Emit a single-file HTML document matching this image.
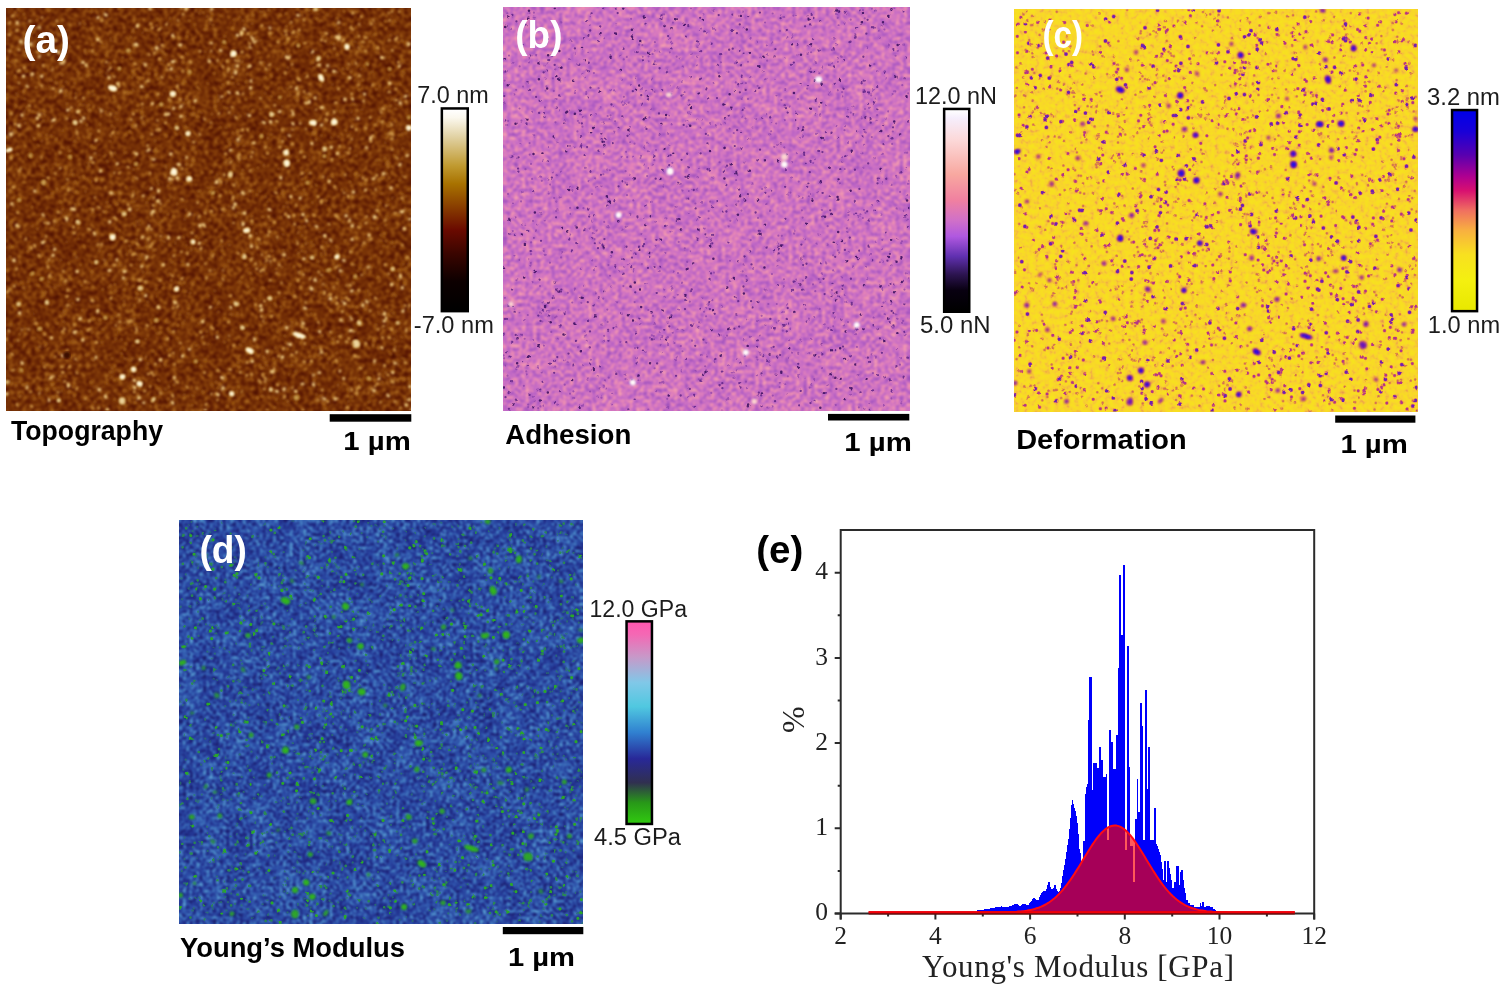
<!DOCTYPE html>
<html lang="en"><head><meta charset="utf-8"><title>AFM nanomechanical maps</title>
<style>
html,body{margin:0;padding:0;background:#fff}
body{width:1512px;height:990px;overflow:hidden}
svg{display:block;filter:blur(0.45px)}
text{font-family:"Liberation Sans",sans-serif}
.cb{font-size:23px;fill:#1c1c1c}
.lb{font-family:"Liberation Sans",sans-serif;font-weight:bold;fill:#000}
.pl{font-family:"Liberation Sans",sans-serif;font-weight:bold}
.tk{font-family:"Liberation Serif",serif;font-size:25.5px;fill:#222}
.ax{font-family:"Liberation Serif",serif;fill:#222}
</style></head><body>
<svg width="1512" height="990" viewBox="0 0 1512 990">
<defs>
<filter id="fa" x="0" y="0" width="100%" height="100%" color-interpolation-filters="sRGB">
<feTurbulence type="fractalNoise" baseFrequency="0.22" numOctaves="2" seed="7"/>
<feColorMatrix type="matrix" values="1 0 0 0 0 1 0 0 0 0 1 0 0 0 0 0 0 0 0 1" result="hi"/>
<feTurbulence type="fractalNoise" baseFrequency="0.035" numOctaves="2" seed="3"/>
<feColorMatrix type="matrix" values="1 0 0 0 0 1 0 0 0 0 1 0 0 0 0 0 0 0 0 1" result="lo"/>
<feComposite in="hi" in2="lo" operator="arithmetic" k1="0" k2="1" k3="0.2" k4="-0.1"/>
<feComponentTransfer><feFuncR type="table" tableValues="0.243 0.251 0.258 0.265 0.273 0.28 0.287 0.295 0.302 0.31 0.317 0.324 0.332 0.34 0.349 0.358 0.367 0.376 0.386 0.395 0.404 0.414 0.424 0.434 0.444 0.454 0.465 0.476 0.488 0.499 0.511 0.523 0.537 0.551 0.565 0.579 0.593 0.608 0.624 0.639 0.654 0.669 0.681 0.692 0.704 0.715 0.727 0.738 0.75 0.761 0.773 0.784"/><feFuncG type="table" tableValues="0.039 0.042 0.045 0.048 0.052 0.055 0.058 0.061 0.064 0.067 0.07 0.073 0.076 0.08 0.089 0.097 0.105 0.113 0.121 0.13 0.138 0.147 0.156 0.165 0.174 0.184 0.194 0.204 0.215 0.226 0.237 0.249 0.263 0.276 0.29 0.304 0.32 0.34 0.36 0.38 0.4 0.419 0.433 0.448 0.462 0.477 0.492 0.506 0.521 0.535 0.55 0.565"/><feFuncB type="table" tableValues="0 0.001 0.001 0.002 0.002 0.003 0.004 0.004 0.005 0.006 0.006 0.007 0.007 0.008 0.009 0.01 0.011 0.012 0.013 0.014 0.015 0.017 0.018 0.02 0.021 0.023 0.025 0.028 0.031 0.034 0.037 0.042 0.048 0.054 0.06 0.066 0.074 0.085 0.095 0.106 0.117 0.128 0.14 0.153 0.165 0.177 0.189 0.202 0.214 0.226 0.239 0.251"/></feComponentTransfer>
<feGaussianBlur stdDeviation="0.8"/>
<feComponentTransfer><feFuncA type="linear" slope="0" intercept="1"/></feComponentTransfer>
</filter>
<clipPath id="ca"><rect x="6" y="8" width="405" height="402.5"/></clipPath>
<linearGradient id="ga" x1="0" y1="0" x2="0" y2="1"><stop offset="0" stop-color="#ffffff"/><stop offset="0.04" stop-color="#fbf8ee"/><stop offset="0.14" stop-color="#e0d0a0"/><stop offset="0.28" stop-color="#c09a30"/><stop offset="0.37" stop-color="#a87200"/><stop offset="0.48" stop-color="#8a4000"/><stop offset="0.6" stop-color="#6a0a00"/><stop offset="0.72" stop-color="#3a0500"/><stop offset="0.86" stop-color="#0c0000"/><stop offset="1" stop-color="#000000"/></linearGradient>
<filter id="fb" x="0" y="0" width="100%" height="100%" color-interpolation-filters="sRGB">
<feTurbulence type="fractalNoise" baseFrequency="0.27" numOctaves="2" seed="11"/>
<feColorMatrix type="matrix" values="1 0 0 0 0 1 0 0 0 0 1 0 0 0 0 0 0 0 0 1" result="hi"/>
<feTurbulence type="fractalNoise" baseFrequency="0.04" numOctaves="2" seed="5"/>
<feColorMatrix type="matrix" values="1 0 0 0 0 1 0 0 0 0 1 0 0 0 0 0 0 0 0 1" result="lo"/>
<feComposite in="hi" in2="lo" operator="arithmetic" k1="0" k2="1" k3="0.18" k4="-0.09"/>
<feComponentTransfer><feFuncR type="table" tableValues="0.486 0.497 0.508 0.519 0.531 0.542 0.553 0.564 0.575 0.586 0.597 0.608 0.619 0.631 0.645 0.659 0.674 0.688 0.702 0.716 0.731 0.746 0.762 0.777 0.793 0.808 0.823 0.839 0.854 0.87 0.885 0.898 0.907 0.916 0.925 0.935 0.943 0.947 0.952 0.956 0.961 0.965 0.967 0.97 0.972 0.974 0.977 0.979 0.981 0.984 0.986 0.988"/><feFuncG type="table" tableValues="0.22 0.228 0.236 0.244 0.252 0.26 0.268 0.276 0.284 0.292 0.3 0.308 0.316 0.324 0.333 0.343 0.352 0.362 0.371 0.381 0.391 0.403 0.415 0.426 0.438 0.449 0.46 0.471 0.482 0.493 0.503 0.515 0.527 0.539 0.552 0.564 0.577 0.591 0.604 0.618 0.632 0.645 0.656 0.667 0.678 0.688 0.699 0.71 0.721 0.731 0.742 0.753"/><feFuncB type="table" tableValues="0.643 0.651 0.658 0.665 0.673 0.68 0.687 0.695 0.702 0.71 0.717 0.724 0.732 0.739 0.746 0.753 0.76 0.767 0.775 0.782 0.783 0.78 0.778 0.775 0.772 0.77 0.764 0.755 0.746 0.736 0.727 0.719 0.713 0.707 0.701 0.695 0.69 0.69 0.69 0.69 0.69 0.691 0.698 0.704 0.71 0.716 0.722 0.728 0.734 0.741 0.747 0.753"/></feComponentTransfer>
<feGaussianBlur stdDeviation="0.8"/>
<feComponentTransfer><feFuncA type="linear" slope="0" intercept="1"/></feComponentTransfer>
</filter>
<clipPath id="cb"><rect x="503" y="7.7" width="406.3" height="402.9"/></clipPath>
<linearGradient id="gb" x1="0" y1="0" x2="0" y2="1"><stop offset="0" stop-color="#ffffff"/><stop offset="0.04" stop-color="#f6eefc"/><stop offset="0.15" stop-color="#fcd8d8"/><stop offset="0.32" stop-color="#f8a8a0"/><stop offset="0.45" stop-color="#f080a0"/><stop offset="0.55" stop-color="#d070c8"/><stop offset="0.63" stop-color="#b058e0"/><stop offset="0.73" stop-color="#6030b0"/><stop offset="0.82" stop-color="#2c1450"/><stop offset="0.9" stop-color="#080010"/><stop offset="1" stop-color="#000000"/></linearGradient>
<filter id="fc" x="0" y="0" width="100%" height="100%" color-interpolation-filters="sRGB">
<feTurbulence type="fractalNoise" baseFrequency="0.2" numOctaves="2" seed="23"/>
<feColorMatrix type="matrix" values="1 0 0 0 0 1 0 0 0 0 1 0 0 0 0 0 0 0 0 1" result="hi"/>
<feComponentTransfer><feFuncR type="table" tableValues="0.965 0.965 0.966 0.966 0.966 0.967 0.967 0.968 0.968 0.969 0.969 0.97 0.97 0.97 0.971 0.971 0.972 0.972 0.973 0.973 0.973 0.973 0.973 0.973 0.973 0.973 0.973 0.973 0.973 0.973 0.973 0.973 0.972 0.97 0.969 0.967 0.966 0.964 0.96 0.956 0.952 0.948 0.944 0.94 0.932 0.925 0.917 0.909 0.901 0.894 0.886 0.878"/><feFuncG type="table" tableValues="0.902 0.9 0.898 0.897 0.895 0.893 0.891 0.89 0.888 0.886 0.884 0.883 0.881 0.879 0.877 0.876 0.874 0.872 0.87 0.867 0.864 0.861 0.858 0.855 0.852 0.849 0.844 0.839 0.834 0.829 0.824 0.819 0.812 0.801 0.79 0.779 0.769 0.756 0.741 0.726 0.71 0.695 0.68 0.663 0.643 0.623 0.603 0.583 0.563 0.542 0.522 0.502"/><feFuncB type="table" tableValues="0.11 0.111 0.112 0.114 0.115 0.116 0.118 0.119 0.12 0.122 0.123 0.124 0.126 0.127 0.128 0.13 0.131 0.132 0.134 0.137 0.14 0.143 0.146 0.149 0.152 0.155 0.159 0.165 0.17 0.175 0.18 0.185 0.191 0.199 0.207 0.214 0.222 0.23 0.237 0.245 0.253 0.26 0.268 0.275 0.28 0.285 0.29 0.295 0.299 0.304 0.309 0.314"/></feComponentTransfer>
<feGaussianBlur stdDeviation="0.7"/>
<feComponentTransfer><feFuncA type="linear" slope="0" intercept="1"/></feComponentTransfer>
</filter>
<clipPath id="cc"><rect x="1014" y="9.6" width="403.5" height="401.8"/></clipPath>
<linearGradient id="gc" x1="0" y1="0" x2="0" y2="1"><stop offset="0" stop-color="#0000e8"/><stop offset="0.1" stop-color="#1800d8"/><stop offset="0.22" stop-color="#5800b0"/><stop offset="0.33" stop-color="#b00090"/><stop offset="0.4" stop-color="#d81070"/><stop offset="0.5" stop-color="#f07060"/><stop offset="0.6" stop-color="#f8b040"/><stop offset="0.72" stop-color="#f8e020"/><stop offset="0.85" stop-color="#f4f010"/><stop offset="1" stop-color="#e8e800"/></linearGradient>
<filter id="fd" x="0" y="0" width="100%" height="100%" color-interpolation-filters="sRGB">
<feTurbulence type="fractalNoise" baseFrequency="0.3" numOctaves="2" seed="31"/>
<feColorMatrix type="matrix" values="1 0 0 0 0 1 0 0 0 0 1 0 0 0 0 0 0 0 0 1" result="hi"/>
<feTurbulence type="fractalNoise" baseFrequency="0.04" numOctaves="2" seed="8"/>
<feColorMatrix type="matrix" values="1 0 0 0 0 1 0 0 0 0 1 0 0 0 0 0 0 0 0 1" result="lo"/>
<feComposite in="hi" in2="lo" operator="arithmetic" k1="0" k2="1" k3="0.2" k4="-0.1"/>
<feComponentTransfer><feFuncR type="table" tableValues="0.078 0.081 0.083 0.085 0.087 0.089 0.091 0.093 0.095 0.097 0.099 0.101 0.104 0.107 0.109 0.112 0.114 0.117 0.121 0.125 0.13 0.135 0.139 0.145 0.153 0.161 0.169 0.178 0.19 0.201 0.213 0.226 0.241 0.257 0.272 0.287 0.303 0.318 0.333 0.349 0.364 0.378 0.392 0.406 0.42 0.434 0.448 0.462 0.476 0.49 0.504 0.518"/><feFuncG type="table" tableValues="0.078 0.081 0.084 0.087 0.09 0.092 0.095 0.098 0.101 0.104 0.106 0.109 0.114 0.119 0.124 0.129 0.134 0.139 0.151 0.167 0.182 0.197 0.213 0.231 0.253 0.274 0.295 0.318 0.343 0.368 0.393 0.419 0.448 0.477 0.506 0.532 0.554 0.575 0.597 0.619 0.638 0.651 0.665 0.678 0.691 0.705 0.718 0.731 0.744 0.758 0.771 0.784"/><feFuncB type="table" tableValues="0.282 0.293 0.303 0.314 0.324 0.335 0.345 0.356 0.366 0.377 0.387 0.398 0.413 0.43 0.446 0.463 0.48 0.496 0.513 0.53 0.547 0.564 0.581 0.598 0.615 0.633 0.65 0.666 0.682 0.697 0.712 0.727 0.74 0.754 0.767 0.779 0.789 0.798 0.807 0.816 0.825 0.831 0.837 0.844 0.85 0.856 0.863 0.869 0.875 0.882 0.888 0.894"/></feComponentTransfer>
<feGaussianBlur stdDeviation="0.8"/>
<feComponentTransfer><feFuncA type="linear" slope="0" intercept="1"/></feComponentTransfer>
</filter>
<clipPath id="cd"><rect x="179.3" y="520.5" width="403.3" height="403.2"/></clipPath>
<linearGradient id="gd" x1="0" y1="0" x2="0" y2="1"><stop offset="0" stop-color="#ff58b0"/><stop offset="0.06" stop-color="#f468b4"/><stop offset="0.17" stop-color="#c898c8"/><stop offset="0.3" stop-color="#80c8e8"/><stop offset="0.42" stop-color="#50c8e0"/><stop offset="0.55" stop-color="#3080d0"/><stop offset="0.68" stop-color="#282898"/><stop offset="0.8" stop-color="#303050"/><stop offset="0.9" stop-color="#289818"/><stop offset="1" stop-color="#30c810"/></linearGradient>
<path id="p0" d="M391.4 177.4h.01M60.2 73.7h.01M26.1 217.8h.01M261.1 193.6h.01M100.9 375.7h.01M214.7 7.8h.01M2.3 57.9h.01M66.4 224.3h.01M57.2 122.9h.01M112.1 324.6h.01M62.6 384.3h.01M337.7 16.5h.01M192.8 315.1h.01M331.0 354.8h.01M316.3 327.9h.01M50.2 74.7h.01M180.9 28.5h.01M19.3 115.2h.01M26.8 103.6h.01M172.7 81.3h.01M285.5 357.2h.01M208.6 282.7h.01M222.4 134.3h.01M28.2 130.9h.01M60.1 87.4h.01M217.7 370.7h.01M37.6 104.8h.01M347.4 111.4h.01M178.4 312.7h.01M124.7 29.5h.01M173.7 274.8h.01M162.2 192.4h.01M149.7 241.7h.01M210.1 374.2h.01M293.8 265.9h.01M148.5 319.6h.01M120.9 276.1h.01M383.1 118.2h.01M216.3 242.4h.01M135.4 129.2h.01M307.7 237.2h.01M333.8 103.5h.01M208.8 174.9h.01M27.9 305.7h.01M282.7 366.1h.01M215.6 249.5h.01M384.3 97.9h.01M244.6 28.5h.01M199.6 21.1h.01M144.4 149.5h.01M259.0 85.4h.01M189.6 240.6h.01M160.6 313.3h.01M216.3 238.9h.01M288.4 258.7h.01M237.8 333.3h.01M51.5 315.7h.01M96.8 281.1h.01M387.4 286.4h.01M222.0 75.8h.01M377.1 373.9h.01M178.8 211.3h.01M400.8 34.6h.01M246.1 135.2h.01M281.4 80.3h.01M393.2 127.2h.01M22.6 273.6h.01M289.5 363.3h.01M375.0 245.3h.01M372.9 78.2h.01M180.2 202.0h.01M108.8 357.8h.01M277.7 198.7h.01M366.1 63.4h.01M388.4 370.9h.01M220.3 173.1h.01M290.6 28.5h.01M280.5 335.0h.01M323.9 201.7h.01M152.1 71.3h.01M384.5 346.1h.01M93.3 100.5h.01M227.4 58.3h.01M88.2 225.6h.01M275.2 208.7h.01M178.3 274.7h.01M123.7 237.8h.01M231.7 305.6h.01M84.8 173.6h.01M302.8 92.4h.01M295.7 7.1h.01M233.3 359.4h.01M185.9 106.0h.01M300.3 210.2h.01M372.8 171.0h.01M137.3 115.4h.01M230.8 135.0h.01M243.6 265.0h.01M179.1 73.5h.01M394.3 76.5h.01M160.5 128.0h.01M106.1 350.3h.01M72.5 230.8h.01M125.7 377.4h.01M232.0 135.8h.01M379.0 312.3h.01M246.9 7.3h.01M88.3 140.2h.01M157.2 279.9h.01M39.1 107.2h.01M250.5 225.5h.01M170.3 126.7h.01M69.3 174.1h.01M56.6 201.6h.01M233.2 122.8h.01M268.6 399.5h.01M126.2 118.9h.01M256.2 388.2h.01M105.9 148.4h.01M168.3 376.7h.01M127.7 162.2h.01M246.1 182.9h.01M205.9 377.0h.01M337.8 313.7h.01M152.1 372.4h.01M246.7 102.3h.01M291.8 225.5h.01M182.1 305.7h.01M66.5 183.4h.01M269.5 340.2h.01M121.9 85.3h.01M379.8 233.2h.01M395.6 350.3h.01M118.1 233.2h.01M310.2 386.3h.01M46.5 59.0h.01M83.4 126.2h.01M119.3 144.8h.01M127.0 82.5h.01M212.9 294.9h.01M387.3 275.6h.01M246.5 15.9h.01M207.8 246.0h.01M257.3 209.1h.01M108.7 391.2h.01M164.6 11.0h.01M25.7 25.4h.01M383.0 102.7h.01M117.9 270.1h.01M192.4 256.9h.01M5.0 362.1h.01M259.5 188.7h.01M22.0 242.9h.01M396.0 32.4h.01M183.1 12.7h.01M136.7 24.8h.01M165.8 266.6h.01M392.7 270.5h.01M108.7 144.7h.01M367.9 356.0h.01M234.5 108.1h.01M234.3 336.7h.01M130.6 213.7h.01M218.5 99.5h.01M263.5 140.4h.01M208.1 262.1h.01M188.8 16.6h.01M45.1 360.4h.01M331.3 64.2h.01M28.4 391.4h.01M79.3 183.6h.01M45.9 269.2h.01M373.4 113.2h.01M389.1 13.9h.01M124.7 352.3h.01M104.7 277.5h.01M131.5 97.5h.01M214.3 376.2h.01M280.1 5.6h.01M119.8 127.0h.01M220.8 175.3h.01M134.0 70.1h.01M160.2 160.0h.01M340.1 144.4h.01M348.1 183.9h.01M159.3 157.7h.01M124.6 242.7h.01M18.6 281.1h.01M290.7 92.7h.01M305.2 234.8h.01M56.8 179.7h.01M310.5 177.6h.01M180.9 208.3h.01M83.6 383.3h.01M95.7 356.3h.01M373.2 305.6h.01M306.6 125.7h.01M257.9 157.8h.01M157.6 52.8h.01M337.8 214.4h.01M100.3 47.3h.01M180.2 46.0h.01M259.2 249.3h.01M341.8 381.5h.01M284.9 317.8h.01M357.3 237.5h.01M85.5 138.5h.01M161.3 342.2h.01M73.7 169.3h.01M172.0 317.5h.01M133.3 213.0h.01M74.9 323.5h.01M259.2 69.3h.01M400.1 260.1h.01M341.8 128.5h.01M171.2 195.9h.01M13.8 326.1h.01M178.5 386.7h.01M355.4 175.7h.01M218.5 310.5h.01M19.8 320.9h.01M231.8 354.6h.01M18.8 91.1h.01M165.3 272.6h.01M139.8 330.8h.01M187.6 140.4h.01M286.4 314.5h.01M187.3 107.3h.01M187.9 207.2h.01M111.7 125.1h.01M236.6 205.6h.01M330.0 16.8h.01M202.4 288.0h.01M218.6 334.2h.01M219.0 203.2h.01M28.6 312.0h.01M370.7 81.6h.01M345.3 103.9h.01M55.4 204.6h.01M297.4 200.0h.01M100.0 65.8h.01M167.6 208.9h.01M205.8 106.2h.01M345.3 214.4h.01M273.1 79.9h.01M57.0 335.2h.01M399.2 200.1h.01M321.6 48.0h.01M203.7 212.5h.01M136.0 78.7h.01M333.0 258.4h.01M355.4 176.1h.01M315.5 246.4h.01M233.2 186.1h.01M118.6 314.4h.01M139.3 74.9h.01M303.8 348.3h.01M6.5 53.8h.01M348.9 256.9h.01M186.6 309.4h.01M259.5 254.3h.01M404.1 202.2h.01M150.5 17.7h.01M205.4 5.1h.01M307.2 149.7h.01M380.5 125.8h.01M23.8 38.1h.01M52.2 278.3h.01M261.8 79.2h.01M191.9 210.6h.01M169.2 234.8h.01M138.1 273.5h.01M136.6 79.2h.01M42.2 273.8h.01M388.7 147.7h.01M325.3 129.8h.01M163.0 378.9h.01M365.9 387.3h.01M392.4 356.7h.01M281.8 59.9h.01M208.3 65.4h.01M204.4 119.2h.01M225.9 152.6h.01M82.2 155.2h.01M321.7 354.5h.01M227.5 395.8h.01M149.2 132.2h.01M41.7 257.6h.01M314.0 224.1h.01M128.3 310.6h.01M257.1 348.7h.01M115.0 257.6h.01M336.4 181.9h.01M368.0 332.6h.01M58.1 313.4h.01M315.3 127.0h.01M99.2 204.0h.01M220.1 154.9h.01M280.4 18.5h.01M281.0 194.5h.01M152.8 380.9h.01M284.0 276.7h.01M18.4 43.7h.01M315.7 30.6h.01M332.0 19.4h.01M359.8 236.2h.01M298.7 315.4h.01M106.0 310.5h.01M223.4 237.2h.01M6.4 238.8h.01M257.3 280.2h.01M11.3 86.5h.01M211.0 166.9h.01M396.6 54.3h.01M173.7 100.3h.01M53.6 84.8h.01M108.4 119.8h.01M256.6 3.7h.01M67.7 133.3h.01M358.6 265.4h.01M80.4 347.5h.01M200.3 271.8h.01M97.9 148.7h.01M179.6 283.4h.01M173.6 171.5h.01M379.8 364.4h.01M145.9 207.3h.01M108.3 89.9h.01M14.7 387.4h.01M5.3 338.2h.01M362.1 232.0h.01M271.6 61.3h.01M278.1 390.4h.01M152.0 175.9h.01M3.0 322.8h.01M127.7 38.4h.01M297.9 181.9h.01M140.7 194.6h.01M63.4 358.2h.01M356.8 72.3h.01M159.3 356.9h.01M352.3 72.8h.01M25.9 199.0h.01M87.7 86.6h.01M18.8 103.2h.01M185.0 241.9h.01M325.3 234.3h.01M383.3 320.5h.01M396.9 53.7h.01M7.6 123.2h.01M16.8 279.2h.01M251.4 389.8h.01M201.6 193.7h.01M288.9 181.7h.01M201.5 193.4h.01M384.8 31.9h.01M379.6 217.1h.01M188.2 152.6h.01M373.3 269.5h.01M16.8 376.8h.01M237.8 137.6h.01M209.2 98.8h.01M218.9 371.6h.01M403.8 251.2h.01M153.6 214.2h.01M113.9 222.2h.01M128.5 297.4h.01M369.1 116.7h.01M319.4 246.0h.01M56.8 78.9h.01M85.0 126.1h.01M232.5 378.5h.01M245.0 265.3h.01M361.9 400.6h.01M199.1 43.6h.01M190.7 337.3h.01M37.1 112.7h.01M88.2 311.2h.01M221.3 398.6h.01M269.9 180.6h.01M393.7 172.5h.01M273.6 314.6h.01M13.3 10.6h.01M218.7 259.1h.01M104.3 364.1h.01M179.0 108.6h.01M399.6 188.8h.01M384.7 27.2h.01M309.7 366.7h.01M236.8 162.2h.01M173.9 100.2h.01M264.5 212.1h.01M61.1 210.9h.01M149.9 140.9h.01M397.3 256.6h.01M76.3 302.0h.01M389.5 100.8h.01M79.0 16.1h.01M261.8 371.8h.01M331.5 10.9h.01M63.8 38.9h.01M112.9 98.5h.01M4.2 184.3h.01M18.2 82.8h.01M101.2 152.7h.01M30.6 104.8h.01M319.9 345.9h.01M232.8 153.2h.01M58.2 302.7h.01M135.6 246.7h.01M47.9 216.3h.01M63.1 143.0h.01M308.3 123.8h.01M69.8 85.5h.01M88.9 46.6h.01M181.8 245.9h.01M332.3 327.8h.01M350.8 299.1h.01M203.6 250.7h.01M333.4 211.0h.01M20.7 99.5h.01M189.3 144.4h.01M267.7 351.0h.01M363.1 394.0h.01M397.3 192.1h.01M119.1 382.7h.01M239.8 91.3h.01M74.8 256.8h.01M258.7 350.6h.01M138.1 116.1h.01M1.5 86.1h.01M245.8 208.5h.01M216.7 269.5h.01M31.3 220.7h.01M158.9 233.6h.01M303.3 1.8h.01M99.6 103.7h.01M80.9 68.3h.01M54.5 194.0h.01M226.2 306.6h.01M201.3 8.5h.01M147.9 46.9h.01M107.0 125.6h.01M308.2 373.1h.01M356.0 294.2h.01M131.5 69.5h.01M402.8 256.3h.01M103.7 104.9h.01M286.0 347.0h.01M282.0 393.7h.01M330.9 46.7h.01M199.6 232.1h.01M199.6 351.0h.01M103.6 197.8h.01M77.4 168.5h.01M124.7 51.0h.01M320.1 391.8h.01M388.6 238.4h.01M36.8 235.1h.01M364.0 33.7h.01M379.0 150.4h.01M228.1 61.6h.01M82.5 102.9h.01M245.4 235.3h.01M155.3 339.4h.01M345.0 63.6h.01M49.7 213.3h.01M236.7 12.7h.01M97.4 321.4h.01M132.0 386.4h.01M370.3 152.4h.01M118.7 292.8h.01M349.5 165.6h.01M317.1 28.1h.01M42.0 381.0h.01M261.1 357.4h.01M37.8 355.5h.01M212.6 303.9h.01M207.8 245.1h.01M56.7 36.8h.01M136.0 113.3h.01M201.9 75.6h.01M380.0 13.3h.01M184.0 285.1h.01M244.0 282.9h.01M188.4 273.2h.01M75.7 277.3h.01M71.9 64.0h.01M231.5 124.3h.01M164.0 169.0h.01M187.5 99.5h.01M48.5 279.3h.01M295.2 317.7h.01M118.2 281.5h.01M388.0 331.2h.01M170.3 68.9h.01M378.5 225.6h.01M45.3 72.5h.01M395.9 329.6h.01M265.5 126.2h.01M85.6 264.4h.01M165.0 189.5h.01M35.7 132.9h.01M0.4 164.9h.01M395.2 89.1h.01M147.6 242.0h.01M47.4 236.8h.01M262.9 61.3h.01M18.4 15.4h.01M108.5 372.0h.01M113.5 0.2h.01M312.2 253.7h.01M320.2 235.5h.01M398.4 350.7h.01M353.3 167.3h.01M363.6 286.1h.01M29.8 79.3h.01M72.8 396.9h.01M321.4 7.3h.01M381.8 157.5h.01M68.5 75.0h.01M269.0 399.7h.01M367.0 338.1h.01M386.1 235.0h.01M292.0 272.6h.01M188.8 92.0h.01M222.9 252.7h.01M281.7 43.4h.01M104.4 133.2h.01M279.1 35.5h.01M239.8 74.0h.01M350.4 148.0h.01M195.0 104.8h.01M68.6 245.6h.01M212.6 91.3h.01M306.4 194.6h.01M211.3 324.0h.01M41.3 255.1h.01M91.4 238.1h.01M250.7 186.6h.01M395.1 97.6h.01M318.4 242.3h.01M53.3 345.5h.01M129.2 394.5h.01M227.6 11.2h.01M380.1 99.6h.01M54.5 252.5h.01M38.5 286.5h.01M33.5 388.0h.01M402.2 181.6h.01M231.7 138.5h.01M374.9 227.2h.01M253.8 357.2h.01M344.1 173.9h.01M153.6 325.6h.01M181.5 164.4h.01M84.6 200.8h.01M32.6 137.6h.01M153.3 31.4h.01M119.2 179.2h.01M102.1 280.1h.01M18.1 6.3h.01M175.5 190.8h.01M200.7 323.5h.01M36.9 66.7h.01M239.8 185.4h.01M15.3 30.5h.01M258.9 309.7h.01M294.1 257.4h.01M277.4 242.4h.01M176.3 253.6h.01M137.2 264.2h.01M118.3 350.4h.01M124.6 202.3h.01M10.1 97.8h.01M193.3 81.2h.01M399.5 125.3h.01M315.3 388.0h.01M120.7 246.3h.01M355.8 101.4h.01M335.5 29.7h.01M18.3 337.3h.01M82.9 97.0h.01M207.3 17.1h.01M245.7 270.6h.01M374.0 56.9h.01M57.9 273.4h.01M5.5 316.7h.01M34.6 158.1h.01M277.5 225.9h.01M295.3 311.6h.01M380.5 164.9h.01M115.9 330.8h.01M104.5 127.3h.01M131.6 246.7h.01M290.6 232.6h.01M234.3 399.8h.01M115.5 346.2h.01M265.5 68.4h.01M230.3 174.2h.01M282.2 250.1h.01M212.1 106.6h.01M349.7 96.8h.01M43.4 79.2h.01M204.2 15.2h.01M271.5 323.9h.01M223.8 306.3h.01M56.1 67.1h.01M307.0 54.6h.01M298.2 164.7h.01M253.9 183.3h.01M384.1 70.6h.01M64.3 349.7h.01M359.2 300.9h.01M93.5 64.6h.01M86.1 324.2h.01M117.7 297.4h.01M347.0 275.2h.01M378.1 238.1h.01M86.7 204.4h.01M84.6 374.3h.01M109.4 331.0h.01M147.2 343.4h.01M154.5 203.1h.01M299.7 286.2h.01M180.1 118.8h.01M353.2 378.4h.01M118.7 341.4h.01M388.7 149.6h.01M34.6 381.8h.01M190.9 78.8h.01M369.2 39.8h.01M250.6 324.8h.01M105.4 67.8h.01M127.6 313.3h.01M237.7 150.4h.01M191.9 80.0h.01M302.8 165.9h.01M402.7 300.1h.01M213.8 276.8h.01M396.6 140.5h.01M47.4 389.2h.01M110.5 308.1h.01M291.9 78.8h.01M201.5 179.9h.01M133.4 251.7h.01M386.1 91.1h.01M131.0 286.1h.01M309.0 337.9h.01M316.6 394.9h.01M286.2 108.5h.01M310.3 132.0h.01M189.7 2.3h.01M335.4 327.8h.01M2.8 78.6h.01M164.3 264.8h.01M111.2 111.6h.01M149.8 66.3h.01M264.6 256.2h.01M133.4 237.6h.01M118.0 297.3h.01M232.3 76.1h.01M372.4 45.4h.01M12.4 1.5h.01M40.7 127.0h.01M140.0 348.5h.01M77.6 97.3h.01M376.4 168.1h.01M330.6 181.0h.01M388.9 113.0h.01M254.4 235.0h.01M349.2 53.5h.01M229.6 207.9h.01M28.5 329.9h.01M332.5 128.7h.01M141.9 356.3h.01M231.7 148.9h.01M93.2 242.7h.01M187.2 387.3h.01M246.0 161.9h.01M291.6 178.2h.01M310.9 10.7h.01M319.6 400.6h.01M128.9 66.7h.01M353.4 260.2h.01M345.9 388.7h.01M273.6 169.7h.01M276.5 98.8h.01M46.1 185.4h.01M59.3 274.9h.01M270.1 392.2h.01M130.2 290.3h.01M197.5 311.3h.01M39.5 284.2h.01M197.0 4.6h.01M211.9 380.0h.01M192.9 5.5h.01M99.6 255.7h.01M162.6 391.1h.01M189.7 337.6h.01M0.8 285.6h.01M121.6 316.9h.01M22.9 97.4h.01M396.2 167.3h.01M64.8 100.7h.01M45.3 127.8h.01M87.8 225.8h.01M66.7 295.7h.01M220.2 119.5h.01M335.3 293.2h.01M52.1 372.4h.01M37.7 159.5h.01M296.1 227.8h.01M252.7 44.5h.01M148.8 233.6h.01M19.2 279.6h.01M168.8 371.2h.01M380.3 208.7h.01M390.7 206.0h.01M140.1 21.7h.01M173.3 100.4h.01M69.4 196.7h.01M341.5 61.1h.01M336.3 182.1h.01M28.9 20.8h.01M49.5 41.4h.01M160.4 46.7h.01M196.6 313.2h.01M296.0 243.1h.01M142.4 238.9h.01M396.8 186.2h.01M127.8 193.6h.01M231.4 204.8h.01M265.4 88.5h.01M130.0 317.4h.01M116.9 49.7h.01M174.1 341.4h.01M180.8 237.4h.01M292.2 152.6h.01M7.7 198.0h.01M339.6 122.7h.01M215.0 276.0h.01M127.8 161.7h.01M139.1 351.1h.01M108.8 276.5h.01M162.2 206.3h.01M183.5 297.6h.01M333.9 148.2h.01M380.2 20.3h.01M326.9 331.4h.01M17.2 15.6h.01M168.4 298.7h.01M403.3 87.4h.01M52.7 26.7h.01M11.6 146.1h.01M70.4 184.4h.01M135.8 105.1h.01M38.6 233.2h.01M338.7 92.6h.01M85.5 312.1h.01M293.8 219.1h.01M308.2 124.6h.01M382.2 197.2h.01M61.1 95.6h.01M96.4 36.2h.01M115.5 230.1h.01M231.9 110.3h.01M355.5 60.9h.01M289.0 350.0h.01M375.5 185.1h.01M300.1 186.6h.01M221.4 100.5h.01M193.3 183.3h.01M9.5 4.8h.01M11.7 40.4h.01M123.7 123.5h.01M223.6 199.0h.01M88.5 379.3h.01M257.1 368.8h.01M241.1 65.9h.01M155.2 42.3h.01M384.0 114.8h.01M292.8 244.8h.01M378.7 135.0h.01M235.8 54.3h.01M40.5 336.0h.01M233.6 146.2h.01M398.1 64.0h.01M374.3 194.5h.01M27.2 36.5h.01M398.2 371.7h.01M217.0 76.7h.01M25.4 68.8h.01M370.0 316.6h.01M136.6 246.3h.01M332.0 377.8h.01M181.7 244.0h.01M171.3 330.6h.01M235.3 226.0h.01M267.4 366.0h.01M34.4 127.2h.01M95.6 334.6h.01M330.7 238.3h.01M59.9 83.1h.01M254.4 100.9h.01M10.3 377.5h.01M249.4 290.8h.01M254.0 32.7h.01M64.9 166.3h.01M227.4 124.8h.01M263.1 2.2h.01M179.6 91.4h.01M388.4 393.9h.01M108.5 186.6h.01M211.9 87.2h.01M389.9 288.2h.01M347.5 96.0h.01M107.0 363.8h.01M380.3 155.6h.01M120.8 351.4h.01M224.3 61.7h.01M77.9 237.1h.01M330.8 352.5h.01M325.6 168.1h.01M100.7 194.2h.01M28.1 34.2h.01M305.1 306.0h.01M338.9 152.2h.01M127.1 23.7h.01M30.9 11.8h.01M0.6 180.9h.01M105.4 291.0h.01M342.4 393.3h.01M148.3 143.1h.01M327.9 36.0h.01M226.8 19.8h.01M173.6 306.8h.01M251.8 159.9h.01M61.4 346.4h.01M401.2 102.0h.01M281.7 199.0h.01M73.9 96.7h.01M276.1 185.7h.01M44.4 278.7h.01M272.7 160.6h.01M402.4 265.8h.01M389.5 323.3h.01M162.7 314.1h.01M143.7 229.3h.01M72.6 130.1h.01M226.3 64.8h.01M276.9 183.0h.01M333.4 25.1h.01M30.7 340.9h.01M330.4 27.7h.01M330.6 258.7h.01M141.3 87.4h.01M162.2 177.5h.01M93.4 312.0h.01M94.1 116.2h.01M398.6 274.7h.01M371.3 220.6h.01M339.0 232.7h.01M119.9 335.6h.01M144.0 191.0h.01M62.7 256.0h.01M32.5 277.6h.01M337.1 61.0h.01M159.5 381.3h.01M360.1 291.7h.01M295.5 263.3h.01M86.6 36.8h.01M365.3 259.6h.01M214.3 119.3h.01M299.6 235.4h.01M364.3 250.3h.01M298.7 218.6h.01M110.9 196.3h.01M177.2 139.9h.01M255.2 3.5h.01M5.3 214.7h.01M246.4 281.2h.01M141.8 235.1h.01M330.9 344.7h.01M42.9 2.2h.01M46.4 375.9h.01M344.1 308.2h.01M60.6 233.5h.01M234.1 204.9h.01M383.0 170.6h.01M392.6 271.5h.01M278.1 23.5h.01M158.2 46.1h.01M299.5 243.9h.01M256.0 359.8h.01M327.0 76.7h.01M343.6 127.0h.01M55.9 382.8h.01M218.9 28.5h.01M49.6 156.2h.01M192.0 109.0h.01M131.5 201.6h.01M212.4 296.1h.01M54.2 368.1h.01M9.3 67.9h.01M274.1 6.6h.01M325.0 303.3h.01M395.4 88.8h.01M82.9 157.9h.01M352.0 283.7h.01M17.9 35.0h.01M353.2 371.1h.01M127.3 183.4h.01M334.3 349.8h.01M143.6 59.8h.01M249.0 331.8h.01M319.8 192.7h.01M249.4 237.3h.01M12.9 389.3h.01M400.3 391.8h.01M99.4 146.9h.01M179.8 156.6h.01M79.0 42.0h.01M79.5 45.1h.01M383.1 155.4h.01M224.4 136.5h.01M186.1 396.8h.01M67.0 379.1h.01M151.6 11.4h.01M67.2 166.5h.01M15.1 274.1h.01M126.6 69.6h.01M60.8 171.1h.01M136.8 107.7h.01M205.7 164.1h.01M338.1 3.5h.01M136.8 55.1h.01M80.9 117.0h.01M236.1 52.8h.01M87.4 351.9h.01M151.2 288.6h.01M277.3 226.3h.01M16.8 35.5h.01M34.5 211.9h.01M84.4 153.4h.01M257.5 54.0h.01M106.2 360.4h.01M387.3 305.3h.01M105.5 370.3h.01M126.1 63.2h.01M240.0 106.2h.01M261.9 129.9h.01M297.9 315.5h.01M386.3 189.7h.01M82.8 84.7h.01M176.7 315.3h.01M164.9 323.7h.01M326.3 330.5h.01M326.0 28.8h.01M345.2 64.2h.01M284.0 47.9h.01M194.9 358.5h.01M402.7 370.6h.01M33.1 249.2h.01M68.3 387.9h.01M242.0 279.0h.01M245.9 215.9h.01M359.9 29.1h.01M375.3 233.5h.01M233.4 273.5h.01M128.9 217.6h.01M104.9 105.4h.01M127.7 169.3h.01M221.0 152.5h.01M283.8 86.9h.01M196.9 383.7h.01M50.1 131.5h.01M10.0 85.8h.01M281.1 340.9h.01M150.2 281.1h.01M143.1 65.6h.01M373.8 101.4h.01M367.3 336.4h.01M157.1 43.9h.01M55.2 41.4h.01M282.3 127.3h.01M270.5 260.9h.01M225.1 184.8h.01M20.4 63.4h.01M393.1 261.9h.01M202.5 335.9h.01M86.3 82.9h.01M150.9 325.6h.01M245.4 85.5h.01M82.6 275.3h.01M127.3 21.7h.01M38.9 338.2h.01M145.2 188.5h.01M57.3 304.6h.01M308.3 59.5h.01M348.9 33.9h.01M202.4 49.7h.01M183.1 297.0h.01M382.2 159.2h.01M106.0 117.7h.01M177.7 95.5h.01M110.4 105.1h.01M187.9 105.5h.01M0.7 86.9h.01M177.6 229.2h.01M131.0 231.2h.01M20.5 376.6h.01M268.7 295.9h.01M265.5 242.9h.01M83.4 101.5h.01M240.0 256.7h.01M292.5 83.2h.01M141.8 294.1h.01M258.9 259.0h.01M43.7 270.1h.01M50.9 180.9h.01M326.7 168.8h.01M275.9 259.1h.01M58.5 83.1h.01M368.7 26.5h.01M292.3 246.0h.01M66.7 333.2h.01M136.4 99.8h.01M323.3 350.5h.01M227.3 75.6h.01M165.8 254.3h.01M150.8 379.7h.01M177.0 191.9h.01M30.8 20.1h.01M62.0 139.6h.01M62.9 179.4h.01M361.8 283.0h.01M177.4 54.1h.01M320.3 277.4h.01M61.3 160.9h.01M396.5 126.0h.01M151.5 172.6h.01M351.3 304.6h.01M234.2 8.7h.01M265.8 25.8h.01M103.0 246.6h.01M48.9 381.0h.01M278.8 327.9h.01M223.5 150.4h.01M389.4 338.7h.01M1.1 262.8h.01M159.7 115.1h.01M296.3 171.2h.01M300.3 300.9h.01M64.6 271.0h.01M274.9 298.9h.01M109.2 283.0h.01M82.5 102.1h.01M93.6 123.6h.01M278.8 289.6h.01M144.1 265.2h.01M331.9 270.6h.01M2.6 350.1h.01M380.4 49.9h.01M312.1 347.7h.01M371.6 269.7h.01M18.7 47.5h.01M190.0 228.2h.01M83.2 129.2h.01M239.7 74.8h.01M89.0 393.8h.01M161.9 321.2h.01M263.5 219.8h.01M193.5 241.6h.01M211.8 93.3h.01M4.1 248.6h.01M104.8 31.6h.01M292.7 223.8h.01M126.4 350.3h.01M299.3 186.4h.01M10.6 13.6h.01M375.2 170.5h.01M385.2 371.7h.01M394.3 90.7h.01M132.8 216.9h.01M40.1 381.3h.01M393.8 157.8h.01M104.2 55.1h.01M300.1 86.5h.01M59.4 159.1h.01M142.9 22.8h.01M279.3 36.3h.01M309.1 269.5h.01M85.8 3.8h.01M352.9 81.8h.01M164.7 174.7h.01"/>
<path id="p1" d="M368.9 378.1h.01M272.0 33.8h.01M95.9 12.4h.01M140.2 250.9h.01M243.6 35.8h.01M152.8 21.8h.01M141.6 137.5h.01M48.4 213.2h.01M196.5 329.1h.01M259.6 139.0h.01M340.4 289.9h.01M236.7 121.5h.01M216.4 201.1h.01M252.9 372.5h.01M273.3 256.9h.01M298.4 83.4h.01M277.5 340.9h.01M152.0 86.1h.01M270.7 265.6h.01M56.7 364.4h.01M204.3 262.9h.01M276.5 133.3h.01M205.1 203.3h.01M345.5 131.4h.01M227.5 215.4h.01M59.9 272.5h.01M401.0 249.7h.01M70.6 380.7h.01M343.1 213.4h.01M151.1 41.3h.01M221.3 53.1h.01M393.8 3.6h.01M373.2 366.2h.01M222.7 313.9h.01M331.1 208.6h.01M276.3 121.9h.01M122.1 196.6h.01M353.1 67.4h.01M334.4 328.4h.01M85.9 291.6h.01M77.5 90.0h.01M262.6 208.7h.01M312.5 314.1h.01M167.1 344.8h.01M369.6 290.2h.01M153.9 51.1h.01M11.7 204.6h.01M383.5 12.2h.01M357.6 92.9h.01M240.9 367.4h.01M264.3 253.1h.01M359.9 335.4h.01M364.9 133.3h.01M258.2 380.9h.01M133.8 292.3h.01M369.4 181.4h.01M4.3 14.6h.01M43.7 267.3h.01M336.4 303.6h.01M299.2 35.4h.01M34.1 339.0h.01M139.9 273.9h.01M54.1 144.2h.01M304.1 271.3h.01M252.9 231.2h.01M140.9 317.2h.01M3.6 15.1h.01M264.1 272.2h.01M210.2 385.5h.01M268.3 251.7h.01M190.2 380.0h.01M355.4 8.5h.01M49.8 32.6h.01M262.2 227.1h.01M290.5 197.0h.01M0.1 331.2h.01M272.8 348.0h.01M48.8 111.9h.01M319.8 25.4h.01M168.8 356.2h.01M85.8 292.1h.01M297.1 402.5h.01M365.0 15.6h.01M245.5 366.0h.01M10.5 260.7h.01M160.8 330.9h.01M297.4 266.6h.01M38.9 326.3h.01M290.5 344.1h.01M284.9 79.2h.01M399.8 354.6h.01M210.6 172.7h.01M47.8 367.3h.01M286.9 24.5h.01M363.8 302.7h.01M211.6 52.3h.01M128.8 55.7h.01M105.2 145.2h.01M282.1 30.8h.01M211.8 392.0h.01M18.4 59.8h.01M61.7 172.1h.01M211.6 362.3h.01M340.4 333.8h.01M126.7 246.4h.01M293.5 71.8h.01M181.2 244.4h.01M86.7 399.8h.01M150.6 122.2h.01M347.1 21.6h.01M342.7 291.8h.01M12.9 218.1h.01M193.1 208.2h.01M138.7 382.7h.01M219.5 145.8h.01M279.3 64.8h.01M333.6 138.3h.01M199.5 255.9h.01M339.1 166.7h.01M382.4 265.6h.01M314.7 340.7h.01M264.1 25.0h.01M143.0 46.8h.01M251.3 239.6h.01M346.0 118.7h.01M268.8 97.2h.01M221.7 63.2h.01M389.1 393.8h.01M83.2 312.8h.01M389.3 31.3h.01M273.7 139.1h.01M146.3 19.8h.01M11.2 396.4h.01M112.7 306.8h.01M123.5 314.1h.01M73.5 15.9h.01M328.1 40.2h.01M120.1 232.9h.01M237.1 86.0h.01M175.5 0.1h.01M383.2 83.7h.01M338.2 185.3h.01M217.1 262.8h.01M7.6 362.4h.01M187.5 134.0h.01M260.2 61.2h.01M161.4 61.2h.01M376.3 114.1h.01M166.3 267.7h.01M348.4 347.9h.01M348.0 323.1h.01M33.2 385.0h.01M222.1 60.9h.01M124.9 312.2h.01M235.4 383.0h.01M352.8 349.3h.01M279.7 23.2h.01M154.9 385.0h.01M401.5 249.3h.01M142.3 365.8h.01M79.1 273.6h.01M345.5 381.9h.01M37.1 57.5h.01M151.3 299.5h.01M260.9 251.8h.01M89.1 145.7h.01M371.0 202.0h.01M234.4 364.2h.01M364.3 109.4h.01M258.5 293.0h.01M19.5 231.1h.01M337.4 32.4h.01M180.6 379.1h.01M352.6 379.3h.01M354.1 359.9h.01M371.9 321.6h.01M227.0 191.0h.01M159.7 114.8h.01M67.5 219.1h.01M38.3 359.3h.01M121.7 313.1h.01M13.5 62.4h.01M144.6 378.2h.01M44.2 370.8h.01M70.9 125.7h.01M233.1 150.5h.01M263.4 223.8h.01M92.2 236.6h.01M396.5 237.1h.01M206.3 247.4h.01M315.8 239.3h.01M128.1 144.6h.01M166.2 386.8h.01M167.9 247.7h.01M346.6 4.4h.01M236.6 214.0h.01M261.5 145.2h.01M145.5 206.3h.01M329.8 207.6h.01M65.3 99.5h.01M379.8 197.8h.01M350.3 121.4h.01M225.7 99.2h.01M232.1 245.5h.01M359.8 120.1h.01M12.4 332.5h.01M345.5 86.0h.01M7.1 179.1h.01M167.8 28.9h.01M60.8 110.4h.01M343.0 330.4h.01M352.8 219.3h.01M24.8 384.0h.01M154.7 227.8h.01M57.6 263.1h.01M400.1 323.1h.01M147.8 189.8h.01M321.8 393.4h.01M292.2 264.0h.01M254.9 54.8h.01M215.6 232.9h.01M344.5 243.6h.01M223.1 327.6h.01M314.8 99.5h.01M256.8 261.2h.01M386.4 130.8h.01M130.3 323.9h.01M273.1 284.9h.01M42.8 251.6h.01M364.8 230.9h.01M357.8 234.6h.01M300.2 120.8h.01M350.0 55.5h.01M288.7 216.2h.01M271.2 229.1h.01M3.1 282.6h.01M25.7 398.3h.01M216.6 58.7h.01M404.8 402.1h.01M255.5 246.8h.01M30.1 315.2h.01M330.3 289.6h.01M167.3 300.0h.01M70.9 123.1h.01M241.1 354.5h.01M330.0 94.8h.01M28.9 237.4h.01M128.3 384.3h.01M275.4 275.0h.01M317.7 276.0h.01M25.3 240.3h.01M170.2 373.2h.01M69.6 351.0h.01M279.5 206.0h.01M315.8 192.6h.01M288.8 288.1h.01M367.9 12.2h.01M175.3 243.6h.01M254.1 373.9h.01M374.2 394.2h.01M355.9 266.8h.01M316.2 381.9h.01M149.2 356.1h.01M1.0 283.8h.01M382.4 32.1h.01M3.5 43.3h.01M245.3 148.8h.01M222.2 74.4h.01M176.3 49.3h.01M46.2 61.6h.01M69.8 323.8h.01M141.4 221.2h.01M344.9 19.9h.01M193.6 126.4h.01M323.8 286.6h.01M163.2 91.9h.01M234.5 128.6h.01M23.8 12.9h.01M71.1 364.8h.01M63.5 358.4h.01M359.4 43.1h.01M57.9 56.0h.01M204.9 115.1h.01M352.9 40.1h.01M162.7 56.6h.01M392.5 54.2h.01M166.7 387.8h.01M141.6 73.2h.01M148.5 44.4h.01M205.1 319.2h.01M73.3 310.9h.01M353.1 28.0h.01M349.7 348.1h.01M286.4 122.3h.01M153.9 20.3h.01M83.3 221.3h.01M315.3 195.2h.01M319.9 112.0h.01M108.6 257.1h.01M154.3 195.8h.01M171.7 12.5h.01M130.7 320.9h.01M379.2 211.7h.01M299.9 294.2h.01M205.3 43.0h.01M49.3 349.2h.01M90.2 171.6h.01M351.2 381.7h.01M342.4 56.3h.01M403.3 297.3h.01M254.9 90.2h.01M261.5 401.7h.01M386.5 125.0h.01M367.2 127.8h.01M244.4 162.8h.01M92.6 122.8h.01M186.0 224.8h.01M15.2 160.2h.01M352.8 282.0h.01M305.2 353.4h.01M136.2 95.9h.01M224.5 287.7h.01M184.7 54.2h.01M270.5 113.2h.01M106.7 124.8h.01M350.8 384.8h.01M400.3 93.2h.01M62.4 297.4h.01M191.6 194.6h.01M108.8 209.5h.01M86.7 293.0h.01M385.9 116.8h.01M303.6 86.1h.01M382.3 5.0h.01M227.8 337.6h.01M241.5 121.1h.01M285.8 102.6h.01M218.2 166.9h.01M36.0 9.5h.01M121.8 159.1h.01M255.8 17.9h.01M331.0 295.4h.01M125.0 257.5h.01M386.0 141.2h.01M257.4 313.1h.01M175.7 270.8h.01M42.1 259.3h.01M127.3 105.9h.01M163.5 347.4h.01M388.5 341.8h.01M92.6 199.6h.01M61.6 342.3h.01M127.5 186.3h.01M268.2 214.0h.01M125.0 111.5h.01M386.3 42.2h.01M232.5 52.9h.01M385.2 276.7h.01M177.1 6.2h.01M341.0 277.3h.01M113.8 313.7h.01M100.4 54.0h.01M259.2 373.5h.01M199.2 205.3h.01M156.8 37.2h.01M399.0 297.7h.01M370.6 209.8h.01M224.7 154.6h.01M360.0 215.0h.01M328.7 178.5h.01M194.8 324.1h.01M46.8 80.5h.01M319.2 62.5h.01M58.5 321.1h.01M110.2 317.3h.01M295.0 279.0h.01M371.8 40.4h.01M104.8 290.6h.01M391.4 149.4h.01M320.9 105.9h.01M331.7 333.8h.01M131.0 170.2h.01M291.6 235.6h.01M134.6 272.1h.01M176.4 160.5h.01M33.0 247.3h.01M315.6 31.9h.01M56.1 358.7h.01M286.0 56.1h.01M341.7 399.4h.01M387.5 373.9h.01M95.5 236.1h.01M298.0 353.8h.01M9.2 116.0h.01M175.8 191.3h.01M54.3 160.4h.01M242.1 25.6h.01M43.3 268.2h.01M229.8 109.8h.01M317.2 169.0h.01M49.0 165.6h.01M371.5 375.8h.01M12.8 75.0h.01M322.9 216.4h.01M129.9 117.2h.01M160.5 16.4h.01M204.7 11.3h.01M394.7 266.1h.01M383.5 125.8h.01M227.9 176.8h.01M52.1 204.1h.01M377.7 318.3h.01M98.1 251.7h.01M35.8 77.5h.01M155.9 69.1h.01M255.6 308.6h.01M143.8 165.1h.01M265.5 308.1h.01M61.4 298.1h.01M144.9 15.5h.01M224.0 361.3h.01M147.2 197.2h.01M243.8 183.1h.01M254.7 263.2h.01M200.6 269.5h.01M294.2 115.2h.01M270.0 184.8h.01M298.5 148.8h.01M174.3 91.2h.01M60.0 209.2h.01M151.4 193.3h.01M246.5 144.2h.01M145.2 221.1h.01M147.6 366.8h.01M344.1 277.3h.01M108.0 68.8h.01M328.5 389.7h.01M135.3 110.0h.01M213.0 105.3h.01M68.3 225.0h.01M328.0 279.3h.01M360.7 208.7h.01M112.9 78.0h.01M113.7 164.9h.01M195.1 240.0h.01M278.5 388.0h.01M50.9 13.0h.01M60.9 288.5h.01M395.7 190.3h.01M176.9 62.9h.01M296.2 318.8h.01M342.4 145.0h.01M297.8 12.0h.01M88.8 189.2h.01M104.7 106.8h.01M8.2 278.0h.01M301.4 68.3h.01M200.1 396.4h.01M382.9 329.4h.01M342.8 188.3h.01M109.9 211.0h.01M82.0 322.1h.01M217.1 271.7h.01M87.1 154.5h.01M390.9 29.9h.01M376.7 329.5h.01M271.7 376.7h.01M128.7 245.7h.01M11.4 22.4h.01M328.3 103.7h.01M32.1 43.4h.01M376.6 100.8h.01M3.0 323.0h.01M226.6 69.2h.01M227.2 188.9h.01M171.9 298.9h.01M288.0 207.4h.01M294.7 144.1h.01M366.7 76.8h.01M267.8 363.5h.01M5.1 105.6h.01M22.7 321.3h.01M324.6 324.1h.01M386.0 3.1h.01M79.5 390.4h.01M167.5 323.6h.01M86.5 42.9h.01M369.2 116.3h.01M263.7 56.5h.01M286.9 379.7h.01M205.7 386.1h.01M300.7 320.8h.01M311.9 391.9h.01M382.0 366.6h.01M144.5 238.5h.01M193.9 43.3h.01M298.7 335.9h.01M104.4 59.7h.01M387.1 127.0h.01M256.7 366.4h.01M343.7 140.5h.01M213.5 171.3h.01M285.9 346.9h.01M292.0 70.3h.01M39.8 228.2h.01M259.1 370.5h.01M38.8 214.2h.01M263.6 248.0h.01M61.9 282.2h.01M151.3 112.7h.01M388.8 204.9h.01M15.4 321.8h.01M304.4 165.5h.01M146.2 235.7h.01M379.2 256.7h.01M94.8 33.5h.01M174.3 335.4h.01M330.3 352.4h.01M153.7 121.6h.01M325.9 151.3h.01M378.6 357.9h.01M280.2 26.7h.01M198.9 111.3h.01M142.2 231.4h.01M214.8 174.0h.01M233.1 146.8h.01M236.2 43.9h.01M312.0 188.6h.01M385.6 321.4h.01M198.5 364.5h.01M389.8 81.3h.01M213.8 188.0h.01M318.3 284.8h.01M171.6 374.2h.01M356.9 169.9h.01M56.5 323.5h.01M308.2 206.9h.01M132.2 271.3h.01M154.0 272.3h.01M38.5 233.9h.01M92.5 399.2h.01M370.7 167.3h.01M385.7 373.6h.01M145.7 126.1h.01M229.5 52.7h.01M13.0 41.8h.01M346.3 256.2h.01M333.8 29.1h.01M249.4 296.8h.01M70.0 89.7h.01M145.9 364.7h.01M375.4 104.6h.01M206.7 320.8h.01M223.2 104.6h.01M245.0 250.9h.01M198.9 218.5h.01M286.3 135.9h.01M245.9 212.9h.01M86.8 201.6h.01M131.1 235.3h.01M360.1 171.7h.01M399.0 168.6h.01M309.7 101.2h.01M89.7 334.4h.01M88.3 224.5h.01M52.0 384.3h.01M389.7 92.0h.01M394.5 400.1h.01M400.6 321.2h.01M285.2 14.4h.01M23.5 98.0h.01M126.7 187.7h.01M249.5 255.7h.01M5.1 149.3h.01M11.8 63.2h.01M332.4 80.7h.01M98.0 203.3h.01M62.6 181.7h.01M35.1 149.1h.01M71.1 249.6h.01M356.8 33.8h.01M315.5 267.3h.01M268.3 361.2h.01M171.3 78.1h.01M68.3 316.9h.01M296.0 165.4h.01M166.8 170.7h.01M3.3 26.8h.01M330.1 259.3h.01M292.0 85.4h.01M6.9 7.8h.01M312.8 263.7h.01M84.1 320.5h.01M250.7 260.8h.01M198.3 336.0h.01M42.7 46.5h.01M319.3 33.0h.01M292.1 272.1h.01M102.9 62.6h.01M58.6 373.5h.01M358.9 29.6h.01M108.5 165.1h.01M353.0 16.2h.01M293.1 22.1h.01M365.3 380.5h.01M13.0 162.8h.01M6.1 346.4h.01M42.3 169.8h.01M352.8 76.7h.01"/>
<path id="p2" d="M5.9 195.9h.01M379.6 310.3h.01M328.0 63.3h.01M205.2 35.3h.01M283.3 127.6h.01M331.5 145.4h.01M154.4 351.9h.01M237.9 21.1h.01M397.0 303.3h.01M11.5 15.0h.01M394.4 268.3h.01M65.8 201.0h.01M180.8 149.6h.01M309.0 272.0h.01M325.2 139.3h.01M32.5 118.0h.01M280.7 319.8h.01M203.3 53.3h.01M263.8 19.9h.01M3.5 125.9h.01M48.8 241.5h.01M130.5 146.0h.01M368.9 352.9h.01M77.6 110.0h.01M137.7 394.3h.01M196.6 313.8h.01M243.4 107.5h.01M171.1 169.7h.01M282.8 49.7h.01M118.3 263.4h.01M57.9 52.9h.01M76.8 332.1h.01M128.1 372.4h.01M135.5 78.5h.01M173.0 156.5h.01M273.3 103.4h.01M152.7 182.8h.01M403.1 391.5h.01M367.2 170.6h.01M300.5 212.7h.01M385.0 180.0h.01M147.0 203.6h.01M232.1 131.6h.01M229.3 196.2h.01M393.5 58.3h.01M352.0 110.4h.01M76.9 54.3h.01M258.2 114.5h.01M55.1 55.1h.01M144.1 0.6h.01M111.2 251.9h.01M145.0 180.2h.01M403.6 210.8h.01M45.4 330.1h.01M150.7 39.7h.01M307.5 376.5h.01M346.5 90.9h.01M74.3 310.8h.01M389.2 355.6h.01M214.8 42.2h.01M166.6 395.2h.01M324.5 290.6h.01M31.2 110.2h.01M68.2 201.2h.01M103.9 262.4h.01M300.0 94.7h.01M24.2 36.1h.01M274.6 169.5h.01M343.9 211.9h.01M332.7 14.3h.01M135.6 257.9h.01M287.3 105.7h.01M276.5 349.1h.01M345.0 322.5h.01M231.4 27.3h.01M330.6 29.3h.01M100.1 6.9h.01M128.6 379.6h.01M401.3 147.8h.01M42.2 214.7h.01M179.8 0.4h.01M363.2 227.1h.01M375.6 340.1h.01M307.3 366.7h.01M224.5 299.5h.01M160.0 106.2h.01M244.6 79.9h.01M347.4 183.9h.01M324.7 232.0h.01M152.8 299.6h.01M68.4 324.2h.01M318.7 227.7h.01M313.4 323.7h.01M181.7 256.4h.01M345.9 282.8h.01M378.6 305.9h.01M290.5 80.5h.01M310.5 218.8h.01M193.5 235.3h.01M237.0 216.5h.01M167.5 53.8h.01M297.2 315.3h.01M315.3 344.0h.01M238.4 205.2h.01M26.4 66.0h.01M315.4 116.6h.01M210.7 174.4h.01M172.8 229.5h.01M165.2 61.1h.01M323.3 173.6h.01M103.8 213.9h.01M147.9 151.0h.01M399.7 88.6h.01M396.4 279.7h.01M402.8 35.9h.01M36.7 234.5h.01M382.3 387.8h.01M140.9 249.0h.01M175.0 108.4h.01M5.6 126.1h.01M21.2 78.3h.01M139.6 56.7h.01M356.8 297.3h.01M56.8 347.8h.01M246.2 353.3h.01M189.3 92.5h.01M33.5 106.9h.01M117.7 269.9h.01M386.6 364.4h.01M105.2 185.0h.01M139.5 287.5h.01M372.8 370.5h.01M330.1 390.9h.01M245.4 238.2h.01M385.6 276.4h.01M289.7 383.5h.01M216.2 369.8h.01M142.9 142.0h.01M80.0 57.2h.01M92.0 9.5h.01M332.5 28.2h.01M294.4 190.2h.01M368.1 382.8h.01M168.5 369.7h.01M334.9 312.1h.01M95.0 103.1h.01M229.7 64.8h.01M400.3 397.1h.01M93.1 381.8h.01M309.5 90.0h.01M263.3 201.8h.01M162.6 229.8h.01M282.6 208.7h.01M132.6 389.8h.01M137.6 187.4h.01M303.1 94.2h.01M343.4 69.7h.01M91.6 303.3h.01M396.2 203.8h.01M101.3 401.8h.01M346.0 231.6h.01M286.9 115.8h.01M338.6 295.5h.01M403.9 378.4h.01M33.9 19.3h.01M164.9 146.0h.01M42.6 391.9h.01M136.8 229.2h.01M60.8 211.1h.01M175.1 98.4h.01M306.5 43.6h.01M33.8 48.6h.01M134.3 351.5h.01M227.3 199.9h.01M167.3 100.2h.01M183.4 341.0h.01M383.7 75.2h.01M394.0 156.8h.01M346.2 218.1h.01M35.4 68.6h.01M235.6 25.3h.01M255.4 301.9h.01M244.5 227.7h.01M339.0 91.2h.01M14.8 33.7h.01M103.1 69.8h.01M284.4 336.6h.01M360.7 139.7h.01M333.5 363.2h.01M90.2 132.6h.01M338.1 370.4h.01M89.9 349.2h.01M215.8 89.0h.01M46.9 247.2h.01M243.8 58.0h.01M16.2 107.1h.01M74.9 113.0h.01M313.0 57.2h.01M10.9 217.2h.01M364.6 130.3h.01M94.7 162.9h.01M304.7 280.1h.01M193.9 217.5h.01M278.0 381.0h.01M169.0 294.4h.01M316.2 99.5h.01M248.5 33.2h.01M88.4 225.9h.01M244.1 39.6h.01M305.8 135.6h.01M143.5 217.7h.01M321.8 57.8h.01M37.1 206.7h.01M224.7 142.6h.01M318.2 390.7h.01M398.4 220.8h.01M45.5 369.6h.01M62.5 377.2h.01M313.3 364.4h.01M340.1 207.8h.01M91.8 31.4h.01M99.7 389.0h.01M176.7 348.3h.01M375.7 49.4h.01M246.8 30.4h.01M205.8 1.1h.01M130.7 37.1h.01M362.2 259.0h.01M146.5 95.7h.01M212.0 386.7h.01M21.4 379.7h.01M358.4 85.9h.01M157.2 256.8h.01M216.9 380.0h.01M271.1 383.4h.01M174.6 36.9h.01M16.2 355.2h.01M284.7 188.8h.01M278.1 246.8h.01M61.8 102.2h.01M297.0 206.6h.01M167.0 27.2h.01M368.5 208.6h.01M111.9 75.4h.01M280.2 49.1h.01M337.9 252.5h.01M72.0 291.6h.01M7.8 252.5h.01M0.3 386.1h.01M17.5 68.3h.01M197.5 216.7h.01M378.2 313.1h.01M54.7 82.9h.01M211.2 329.2h.01M245.4 73.0h.01M152.0 192.9h.01M394.1 95.1h.01M131.5 18.2h.01M306.0 281.0h.01M123.6 201.5h.01M198.9 402.4h.01M85.0 149.8h.01M231.3 85.1h.01M111.4 156.1h.01M236.6 184.6h.01M231.3 58.1h.01M247.9 135.2h.01M359.6 181.9h.01M47.1 112.3h.01M162.5 106.0h.01M334.1 262.7h.01M71.1 263.5h.01M377.6 165.6h.01M298.6 300.1h.01M28.6 183.3h.01M71.7 103.7h.01M183.6 205.9h.01M264.6 113.8h.01M204.6 299.4h.01M248.7 330.5h.01M12.9 117.4h.01M13.5 305.0h.01M332.8 31.1h.01M297.9 251.0h.01M223.0 84.4h.01M254.6 297.8h.01M345.4 310.9h.01M261.2 343.2h.01M52.2 44.6h.01M163.7 171.0h.01M291.9 7.6h.01M129.1 36.0h.01M265.6 363.5h.01M295.9 375.8h.01M361.0 293.8h.01"/>
<path id="q0" d="M92.9 179.4h.01M0.5 258.9h.01M333.0 236.2h.01M246.9 232.1h.01M201.0 220.7h.01M107.2 107.5h.01M156.2 263.1h.01M164.4 160.6h.01M274.6 252.8h.01M21.6 330.7h.01M5.1 113.1h.01M258.9 63.7h.01M373.0 107.4h.01M35.1 400.1h.01M218.4 298.7h.01M4.5 367.6h.01M66.9 200.0h.01M265.0 188.7h.01M11.4 247.4h.01M367.8 197.3h.01M201.5 358.2h.01M367.5 346.4h.01M87.5 351.7h.01M401.6 191.2h.01M87.4 8.8h.01M215.0 65.1h.01M159.9 178.7h.01M303.2 80.8h.01M132.5 69.9h.01M131.6 340.0h.01M48.1 323.9h.01M24.3 357.8h.01M183.1 190.6h.01M84.3 371.6h.01M309.0 276.5h.01M312.5 235.7h.01M299.0 272.6h.01M268.9 387.5h.01M46.8 254.7h.01M172.0 198.8h.01M137.2 316.2h.01M224.9 218.5h.01M361.8 258.9h.01M71.0 389.9h.01M388.3 86.3h.01M151.9 213.8h.01M210.2 264.6h.01M273.9 235.7h.01M138.5 256.3h.01M1.6 64.4h.01M173.7 80.2h.01M284.4 186.7h.01M74.8 339.1h.01M96.2 380.3h.01M57.9 249.5h.01M327.8 282.2h.01M94.4 368.0h.01M173.2 349.6h.01M158.8 328.1h.01M268.3 34.6h.01M333.7 173.1h.01M98.1 178.3h.01M197.0 372.7h.01M333.8 82.5h.01M135.7 36.9h.01M122.7 144.0h.01M160.0 374.8h.01M279.9 279.1h.01M168.8 155.0h.01M365.1 396.0h.01M80.9 277.9h.01M357.6 110.6h.01M346.7 104.8h.01M72.2 83.4h.01M218.2 402.4h.01M138.0 226.1h.01M323.6 218.3h.01M307.2 376.7h.01M204.5 103.5h.01M332.0 36.7h.01M340.6 161.2h.01M244.2 91.1h.01M283.7 386.2h.01M100.7 30.5h.01M151.4 34.4h.01M120.8 258.7h.01M226.3 252.8h.01M161.0 288.8h.01M16.5 100.7h.01M314.8 271.1h.01M142.2 276.1h.01M161.8 245.0h.01M255.8 327.4h.01M272.6 87.5h.01M226.6 212.9h.01M398.0 77.4h.01M101.6 372.4h.01M315.6 300.9h.01M164.6 399.0h.01M8.1 21.2h.01M56.8 319.1h.01M42.5 246.9h.01M39.4 294.4h.01M206.3 162.2h.01M144.8 401.4h.01M241.4 249.1h.01M137.0 150.0h.01M377.1 206.8h.01M31.5 392.7h.01M238.2 108.9h.01M13.4 272.3h.01M352.8 338.9h.01M283.9 368.2h.01M240.0 20.2h.01M195.3 36.2h.01M29.0 171.1h.01M255.9 344.5h.01M392.7 341.2h.01M178.1 363.4h.01M118.6 72.0h.01M225.1 357.0h.01M200.4 303.7h.01M202.5 362.4h.01M150.8 152.3h.01M217.5 116.5h.01M164.5 336.0h.01M188.6 332.6h.01M405.0 270.0h.01M176.1 50.6h.01M77.5 261.0h.01M349.3 98.9h.01M280.0 271.4h.01M365.3 85.6h.01M143.7 168.2h.01M377.4 18.2h.01M364.9 100.1h.01M207.6 384.8h.01M321.6 254.3h.01M146.0 109.6h.01M310.9 151.4h.01M322.0 97.4h.01M249.3 260.9h.01M70.2 383.2h.01M279.3 9.3h.01M163.7 63.8h.01M50.1 288.0h.01M175.5 301.6h.01M391.8 168.0h.01M320.3 132.1h.01M167.9 34.2h.01M293.0 145.2h.01M168.1 116.7h.01M280.4 139.6h.01M312.0 126.1h.01M127.5 77.0h.01M156.3 44.0h.01M303.7 38.3h.01M262.7 196.0h.01M1.7 95.5h.01M387.3 177.1h.01M86.3 220.7h.01M86.8 383.4h.01M254.2 210.0h.01M104.3 313.9h.01M197.4 20.9h.01M56.0 102.5h.01M4.3 5.7h.01M204.9 210.6h.01M74.2 123.6h.01M39.2 313.5h.01M131.2 294.1h.01M335.1 244.7h.01M316.8 74.9h.01M367.7 1.0h.01M401.4 160.5h.01M337.6 49.2h.01M210.0 75.0h.01M403.5 211.8h.01M328.8 42.4h.01M55.4 301.8h.01M238.9 263.5h.01M202.4 300.0h.01M44.0 35.8h.01M27.9 246.2h.01M120.5 89.0h.01M340.1 341.5h.01M329.7 30.8h.01M316.1 107.8h.01M378.6 146.0h.01M151.2 83.9h.01M40.4 397.6h.01M211.1 353.1h.01M344.4 207.1h.01M240.0 191.7h.01M384.3 277.8h.01M5.0 186.0h.01M381.4 70.6h.01M195.5 314.3h.01M324.2 320.1h.01M113.8 294.3h.01M37.1 168.8h.01M351.0 26.4h.01M343.3 6.9h.01M19.0 216.8h.01M242.1 75.4h.01M246.1 328.9h.01M198.0 347.0h.01M105.4 219.4h.01M298.7 209.7h.01M61.4 112.8h.01M268.8 5.8h.01M208.6 292.2h.01M53.1 193.7h.01M88.7 186.1h.01M33.1 47.6h.01M122.1 371.0h.01M187.6 46.2h.01M174.2 286.6h.01M44.8 139.3h.01M306.8 63.9h.01M151.2 315.7h.01M241.1 347.9h.01M253.3 313.1h.01M145.2 160.3h.01M126.6 119.0h.01M202.6 334.7h.01M140.0 210.1h.01M118.6 93.6h.01M72.2 217.9h.01M294.9 130.0h.01M132.5 245.6h.01M360.3 400.7h.01M46.1 303.4h.01M368.9 82.2h.01M57.6 163.8h.01M330.6 309.1h.01M142.7 83.0h.01M89.5 225.3h.01M253.7 351.5h.01M193.2 181.6h.01M225.7 272.9h.01M260.9 281.6h.01M253.1 367.2h.01M258.3 181.2h.01M333.8 242.4h.01M22.2 216.9h.01M128.6 371.9h.01M54.1 396.6h.01M152.1 237.8h.01M391.5 306.3h.01M52.1 358.6h.01M64.6 284.8h.01M253.8 78.1h.01M288.2 154.3h.01M379.7 397.6h.01M147.4 101.2h.01M315.3 65.5h.01M27.7 255.0h.01M103.9 161.8h.01M360.0 137.1h.01M347.1 386.7h.01M139.2 49.0h.01M285.2 349.8h.01M180.9 84.4h.01M343.6 351.5h.01M82.5 160.0h.01M360.6 10.7h.01M90.6 65.3h.01M120.0 278.1h.01M336.9 48.7h.01M163.2 329.8h.01M343.9 314.1h.01M24.7 307.0h.01M303.6 45.4h.01M221.2 139.6h.01M294.1 91.3h.01M106.7 267.8h.01M221.1 115.3h.01M37.3 398.3h.01M147.6 330.6h.01M363.0 271.1h.01M253.9 33.2h.01M203.3 25.3h.01M169.2 324.7h.01M402.9 187.2h.01M6.0 47.8h.01M142.2 343.9h.01M29.4 274.2h.01M292.3 271.7h.01M333.6 10.1h.01M337.3 269.4h.01M404.9 173.1h.01M359.8 202.2h.01M125.2 94.9h.01M261.7 71.3h.01M179.2 58.8h.01M169.4 14.9h.01M54.5 330.9h.01M256.6 49.8h.01M117.0 334.0h.01M140.7 139.4h.01M190.0 316.4h.01M290.1 225.8h.01M340.9 118.3h.01M343.7 101.7h.01M23.2 363.4h.01M261.6 316.9h.01M148.3 327.3h.01M401.5 265.4h.01M403.9 85.5h.01M13.3 361.1h.01M264.0 46.0h.01M168.6 35.9h.01M217.9 343.3h.01M265.4 126.5h.01M217.1 54.6h.01M164.6 126.0h.01M144.8 302.0h.01M369.4 309.5h.01M175.1 234.0h.01M166.5 30.6h.01M185.2 183.3h.01M307.1 44.5h.01M97.4 99.5h.01M339.7 317.3h.01M345.8 348.0h.01M358.3 145.4h.01M393.5 43.2h.01M83.4 332.9h.01M371.6 348.5h.01M338.2 88.5h.01M54.4 135.0h.01M253.8 387.5h.01M225.9 120.9h.01M307.2 186.1h.01M52.9 203.2h.01M391.0 83.5h.01M211.1 352.5h.01M76.0 115.0h.01M83.0 85.4h.01M53.3 308.5h.01M167.9 278.0h.01M9.9 195.7h.01M246.7 30.8h.01M79.6 397.6h.01M81.2 69.5h.01M331.6 396.9h.01M17.3 136.2h.01M278.9 304.0h.01M400.5 327.2h.01M163.7 390.7h.01M268.6 398.3h.01M261.2 14.8h.01M240.6 100.3h.01M189.6 398.8h.01M84.8 45.2h.01M361.7 124.7h.01M79.6 109.4h.01M96.8 235.0h.01M166.9 223.6h.01M195.2 371.2h.01M193.7 212.2h.01M256.6 346.8h.01M310.2 371.1h.01M145.1 48.6h.01M185.2 92.5h.01M135.0 372.3h.01M370.5 150.6h.01M344.0 211.9h.01M30.1 332.0h.01M267.9 318.9h.01M396.0 350.0h.01M15.3 26.8h.01M123.4 49.2h.01M311.3 283.2h.01M299.0 128.6h.01M266.2 202.8h.01M52.3 114.5h.01M61.3 352.1h.01M372.4 113.0h.01M384.6 37.8h.01M300.3 145.1h.01M316.3 274.5h.01M203.2 230.1h.01M16.7 39.9h.01M45.6 185.7h.01M299.6 145.9h.01M40.6 242.6h.01M230.0 125.3h.01M389.3 319.6h.01M324.9 86.7h.01M310.1 309.2h.01M399.0 36.9h.01M0.6 347.3h.01M401.9 144.8h.01M47.0 176.7h.01M267.7 339.5h.01M359.3 82.4h.01M7.3 226.3h.01M274.8 312.8h.01M244.2 54.0h.01M143.7 134.9h.01M232.4 172.3h.01M178.9 182.7h.01M69.0 294.5h.01M397.3 249.7h.01M0.9 94.4h.01M286.5 184.7h.01M34.8 359.3h.01M148.2 194.0h.01M106.5 162.4h.01M342.3 293.9h.01M244.6 131.1h.01M120.3 51.7h.01M127.8 242.5h.01M268.1 266.1h.01M351.9 134.8h.01M40.2 152.5h.01M198.4 194.9h.01M229.7 369.8h.01M181.3 16.7h.01M92.6 258.8h.01M275.9 374.6h.01M196.2 23.2h.01M333.8 54.1h.01M9.7 223.2h.01M66.8 102.8h.01M191.9 363.0h.01M36.8 304.4h.01M92.6 106.3h.01M361.3 204.9h.01M311.5 54.3h.01M398.8 312.9h.01M98.8 235.8h.01M69.2 182.3h.01M119.7 97.2h.01M160.7 281.6h.01M79.8 357.0h.01M108.0 396.6h.01M322.2 255.5h.01M27.9 156.1h.01M25.1 396.5h.01M239.2 4.0h.01M110.7 99.0h.01M15.5 357.8h.01M27.3 257.6h.01M185.2 206.1h.01M100.5 146.0h.01M395.7 165.0h.01M66.8 385.6h.01M104.0 301.6h.01M111.7 113.5h.01M375.6 30.1h.01M121.7 96.2h.01M36.9 278.1h.01M81.8 220.8h.01M28.0 234.5h.01M56.4 189.5h.01M237.7 202.7h.01M393.3 310.8h.01M275.7 379.0h.01M104.3 108.2h.01M263.5 399.4h.01M404.7 175.9h.01M307.7 330.8h.01M367.6 129.2h.01M144.4 143.4h.01M378.1 231.9h.01M12.5 209.4h.01M346.6 12.0h.01M232.0 74.7h.01M351.9 326.2h.01M16.6 58.7h.01M29.8 388.7h.01M100.3 114.5h.01M152.6 383.0h.01M88.9 213.7h.01M329.1 262.5h.01M329.2 368.6h.01M349.9 206.4h.01M90.6 262.2h.01M57.5 73.7h.01M174.4 265.1h.01M166.2 44.6h.01M283.2 297.1h.01M327.9 55.3h.01M329.2 318.3h.01M25.9 54.7h.01M1.1 325.3h.01M80.2 200.3h.01M297.3 279.2h.01M130.3 261.1h.01M26.4 5.3h.01M37.6 305.2h.01M10.1 54.9h.01M164.0 314.0h.01M21.7 312.1h.01M165.9 107.5h.01M387.9 384.0h.01M100.8 327.8h.01M371.5 90.6h.01M288.2 29.4h.01M294.8 173.7h.01M277.2 7.8h.01M387.3 257.5h.01M267.3 123.5h.01M338.0 232.4h.01M314.8 348.9h.01M351.6 320.0h.01M162.3 110.2h.01M273.0 314.5h.01M193.4 48.8h.01M212.2 117.8h.01M224.7 391.0h.01M221.9 159.2h.01M20.0 78.8h.01M334.5 17.6h.01M325.7 84.0h.01M19.0 327.3h.01M174.0 321.5h.01M49.8 70.7h.01M138.9 37.4h.01M159.6 6.6h.01M263.3 52.9h.01M23.6 366.3h.01M77.2 138.7h.01M349.0 258.3h.01M119.2 221.7h.01M71.2 139.3h.01M25.2 251.1h.01M20.8 377.8h.01M305.7 379.5h.01M178.2 74.1h.01M199.7 6.6h.01M312.1 55.4h.01M343.4 224.2h.01M4.2 117.2h.01M300.4 370.2h.01M13.1 82.0h.01M65.9 51.3h.01M158.2 344.2h.01M278.9 322.6h.01M344.6 244.1h.01M338.7 79.7h.01M325.8 57.2h.01M399.5 203.0h.01M44.9 303.1h.01M168.9 280.7h.01M56.1 317.2h.01M276.1 23.2h.01M203.4 348.5h.01M193.8 38.7h.01M273.4 137.1h.01M242.6 357.8h.01M18.0 193.5h.01M126.1 166.9h.01M88.9 252.5h.01M81.7 323.6h.01M270.7 321.4h.01M74.1 56.0h.01M141.9 231.1h.01M51.9 309.5h.01M151.1 42.8h.01M71.7 280.7h.01M71.7 85.3h.01M267.8 113.8h.01M274.5 227.7h.01M390.1 0.2h.01M233.0 362.3h.01M123.6 187.3h.01M242.2 373.6h.01M186.2 293.7h.01M261.4 179.7h.01M395.8 184.0h.01M29.1 104.0h.01M158.1 374.3h.01M50.6 83.1h.01M86.4 17.3h.01M1.9 289.8h.01M187.1 243.2h.01M79.2 118.9h.01M333.8 50.6h.01M378.8 253.7h.01M41.6 212.6h.01M340.4 122.4h.01M285.2 332.2h.01M292.1 103.8h.01M30.6 9.8h.01M338.2 154.1h.01M363.0 39.6h.01M215.9 154.4h.01M187.3 0.5h.01M248.8 119.7h.01M38.2 206.3h.01M29.9 213.0h.01M204.8 295.9h.01M209.7 2.7h.01M387.3 390.3h.01M354.7 399.3h.01M110.8 82.6h.01M264.5 296.0h.01M122.2 163.3h.01M306.4 60.9h.01M198.2 111.7h.01M117.0 48.2h.01M290.4 223.5h.01M206.4 115.3h.01M183.1 118.8h.01M151.4 53.5h.01M52.2 61.6h.01M239.8 256.5h.01M317.9 360.2h.01M195.7 160.0h.01M42.5 71.0h.01M384.8 8.0h.01M358.8 2.5h.01M58.1 14.7h.01M188.1 45.9h.01M53.4 167.3h.01M31.1 127.5h.01M366.0 246.9h.01M38.7 173.0h.01M30.8 5.0h.01M248.6 175.5h.01M257.8 307.8h.01M271.5 366.4h.01M242.6 268.0h.01M100.9 214.0h.01M323.3 377.2h.01M61.5 376.6h.01M360.6 123.8h.01M7.6 149.4h.01M167.7 86.0h.01M222.8 197.7h.01M34.1 381.4h.01M197.7 371.3h.01M173.1 48.9h.01M1.2 350.3h.01M304.9 188.4h.01M147.9 244.7h.01M177.1 338.1h.01M184.7 388.1h.01M71.5 45.3h.01M243.2 380.0h.01M126.9 205.9h.01M165.9 137.1h.01M323.5 236.7h.01M126.8 134.4h.01M332.5 118.2h.01M1.6 72.8h.01M292.0 7.2h.01M401.4 207.8h.01M149.0 46.1h.01M338.0 84.3h.01M26.0 50.7h.01M345.1 203.4h.01M313.3 184.3h.01M209.6 169.8h.01M66.8 179.0h.01M13.9 331.3h.01M141.7 119.5h.01M64.5 354.3h.01M178.5 274.7h.01M224.8 64.2h.01M106.1 111.3h.01M122.3 219.0h.01M162.9 210.4h.01M232.9 163.0h.01M272.3 115.7h.01M40.8 337.5h.01M69.8 357.7h.01M295.4 188.6h.01M34.1 216.6h.01M31.4 33.7h.01M387.9 136.1h.01M41.8 99.5h.01M41.5 57.9h.01M340.4 15.2h.01M309.2 155.2h.01M148.5 70.8h.01M43.3 78.6h.01M335.9 175.5h.01M317.7 265.4h.01M368.8 365.1h.01M67.4 206.0h.01M100.0 166.4h.01M93.3 222.7h.01M289.5 7.9h.01M360.9 101.2h.01M130.4 171.9h.01M400.2 281.6h.01M233.2 351.2h.01M206.5 237.0h.01M2.0 357.5h.01M122.1 174.8h.01M125.5 256.1h.01M315.8 106.7h.01M288.8 26.8h.01M108.8 385.8h.01M105.1 257.1h.01M397.7 233.3h.01M378.1 281.1h.01M273.7 258.2h.01M246.6 70.1h.01M262.6 282.4h.01M202.4 308.3h.01M332.3 0.1h.01M397.9 314.9h.01M252.9 349.3h.01M169.9 289.5h.01M45.3 171.9h.01M105.4 369.6h.01M95.3 80.4h.01M178.9 343.2h.01M206.5 193.8h.01M229.0 364.3h.01M94.2 388.5h.01M44.6 55.6h.01M288.1 344.6h.01M301.0 231.4h.01M191.8 195.6h.01M137.6 148.1h.01M262.4 106.4h.01M146.5 329.6h.01M33.0 222.5h.01M286.5 320.6h.01M287.3 169.6h.01M301.6 301.1h.01M100.2 333.3h.01M298.6 189.9h.01M54.2 201.4h.01M197.1 120.0h.01M186.8 105.9h.01M297.9 202.4h.01M193.1 57.3h.01M91.8 170.6h.01M272.9 296.0h.01M112.7 16.6h.01M384.0 103.6h.01M240.0 332.1h.01M156.3 323.8h.01M211.6 22.3h.01M22.4 161.3h.01M16.2 304.4h.01M233.1 212.4h.01M280.4 376.2h.01M177.2 176.0h.01M388.6 123.7h.01M156.3 374.7h.01M151.1 360.2h.01M299.7 248.4h.01M329.0 247.4h.01M59.1 244.1h.01M353.5 367.0h.01M358.7 210.1h.01M130.1 263.5h.01M172.3 352.1h.01M98.9 316.7h.01M100.5 377.6h.01M317.8 201.9h.01M304.9 310.7h.01M353.1 318.8h.01M392.4 200.5h.01M157.2 337.0h.01M16.5 252.0h.01M76.9 106.5h.01M277.5 92.3h.01M107.7 248.8h.01M375.7 254.3h.01M19.6 184.1h.01M209.3 21.1h.01M386.8 295.9h.01M377.7 241.1h.01M314.6 226.6h.01M338.0 149.3h.01M241.7 110.7h.01M202.7 229.8h.01M157.6 331.2h.01M79.1 66.3h.01M132.7 350.0h.01M354.5 208.1h.01M379.3 294.6h.01M270.4 139.0h.01M53.4 91.2h.01M184.8 104.8h.01M102.7 380.4h.01M115.8 263.3h.01M222.9 391.6h.01M138.4 81.1h.01M320.7 316.3h.01M280.5 50.4h.01M381.5 110.9h.01M393.7 230.6h.01M237.9 91.1h.01M294.3 344.8h.01M152.5 142.2h.01M371.6 233.9h.01M74.7 113.1h.01M129.9 192.5h.01M170.9 335.0h.01M397.0 395.2h.01M404.5 270.3h.01M205.0 203.2h.01M198.7 290.0h.01M92.5 285.4h.01M182.8 113.2h.01M266.2 356.7h.01M331.9 6.3h.01M118.3 149.1h.01M231.2 55.5h.01M281.4 81.3h.01M193.7 111.8h.01M123.8 149.3h.01M396.9 235.1h.01M234.7 193.4h.01M183.6 254.0h.01M343.9 135.1h.01M240.5 154.7h.01M391.3 48.0h.01M373.2 63.5h.01M280.8 112.4h.01M150.2 328.2h.01M11.3 86.6h.01M263.0 37.6h.01M26.6 146.7h.01M18.4 112.9h.01M252.5 111.3h.01M377.8 174.6h.01M380.2 21.8h.01M340.5 235.1h.01M131.1 135.8h.01M294.2 368.0h.01M305.3 345.0h.01M283.4 30.4h.01M148.9 156.9h.01M37.0 204.2h.01M127.7 11.1h.01M25.1 399.0h.01M204.5 127.4h.01M91.2 231.1h.01M223.3 327.7h.01M111.0 123.6h.01M85.4 173.3h.01M356.3 206.5h.01M140.4 156.7h.01M164.4 329.1h.01M266.7 108.9h.01M277.9 227.9h.01M26.5 135.2h.01M193.9 169.3h.01M104.0 219.1h.01M370.1 56.4h.01M145.1 53.5h.01M167.4 78.5h.01M122.3 366.6h.01M129.8 148.9h.01M149.5 307.9h.01M340.7 286.9h.01M82.2 327.4h.01M286.0 98.9h.01M51.0 190.0h.01M315.2 98.9h.01M170.0 263.7h.01M342.7 220.4h.01M38.6 364.4h.01M374.5 23.0h.01M271.0 71.0h.01M395.7 356.6h.01M28.4 243.1h.01M78.1 294.8h.01M243.4 311.5h.01M107.8 278.6h.01M98.1 389.6h.01M66.9 226.7h.01M112.9 318.6h.01M104.0 197.4h.01M318.1 58.9h.01M359.3 159.9h.01M181.2 240.4h.01M178.9 322.1h.01M49.7 164.5h.01M42.3 82.8h.01M296.5 331.5h.01M380.4 306.2h.01M367.0 87.6h.01M107.2 82.4h.01M99.9 290.6h.01M293.5 47.3h.01"/>
<path id="q1" d="M109.3 135.3h.01M373.7 367.2h.01M236.7 43.1h.01M84.9 201.7h.01M221.3 110.7h.01M177.9 87.8h.01M401.6 49.9h.01M13.7 393.0h.01M282.9 323.4h.01M219.3 203.7h.01M235.5 375.0h.01M61.0 115.7h.01M364.4 238.6h.01M39.5 373.8h.01M244.1 186.3h.01M110.2 320.1h.01M37.9 232.9h.01M364.0 155.6h.01M337.3 311.6h.01M184.7 18.5h.01M258.5 110.0h.01M379.3 136.2h.01M310.4 392.7h.01M131.8 284.3h.01M363.8 96.0h.01M232.6 196.7h.01M111.9 258.4h.01M181.9 168.9h.01M196.3 71.6h.01M14.7 358.6h.01M57.5 317.5h.01M58.6 60.0h.01M278.4 237.2h.01M365.6 401.9h.01M329.5 305.0h.01M320.6 286.1h.01M22.4 16.9h.01M9.0 281.6h.01M280.8 97.6h.01M144.5 91.7h.01M373.6 170.7h.01M99.2 237.3h.01M385.6 246.0h.01M300.1 144.8h.01M296.6 76.4h.01M321.8 384.7h.01M240.7 248.4h.01M248.7 299.4h.01M153.6 355.4h.01M140.6 236.2h.01M11.6 304.0h.01M13.4 13.6h.01M350.9 30.1h.01M239.7 278.5h.01M100.9 283.4h.01M26.5 386.8h.01M185.0 190.7h.01M350.7 193.2h.01M97.6 167.0h.01M327.5 124.8h.01M225.4 42.0h.01M399.4 368.5h.01M282.0 162.2h.01M131.3 391.6h.01M303.2 178.9h.01M363.0 203.4h.01M222.6 177.1h.01M397.1 164.4h.01M272.5 366.8h.01M336.2 161.3h.01M133.2 44.3h.01M53.6 99.9h.01M314.7 42.9h.01M400.3 70.7h.01M256.2 141.8h.01M234.4 76.6h.01M202.2 126.1h.01M145.8 248.9h.01M317.7 336.3h.01M80.7 30.5h.01M356.4 384.3h.01M131.3 245.8h.01M373.0 79.3h.01M326.2 202.4h.01M381.3 224.4h.01M86.7 323.4h.01M297.5 251.3h.01M352.3 321.6h.01M0.5 326.5h.01M305.8 164.3h.01M265.2 353.5h.01M369.4 317.4h.01M220.1 164.1h.01M233.4 122.4h.01M26.8 82.2h.01M104.8 321.8h.01M321.9 124.3h.01M280.6 317.5h.01M95.2 142.9h.01M156.9 258.6h.01M173.3 212.6h.01M36.5 93.0h.01M273.9 277.1h.01M193.9 230.8h.01M358.2 128.5h.01M400.1 296.2h.01M71.7 40.7h.01M43.9 31.0h.01M283.8 300.1h.01M329.6 40.8h.01M346.4 34.0h.01M51.0 364.8h.01M139.5 52.6h.01M204.5 90.6h.01M9.3 148.6h.01M364.4 212.4h.01M334.1 130.0h.01M158.0 7.8h.01M3.1 344.3h.01M353.0 123.4h.01M253.6 152.4h.01M90.2 297.4h.01M233.2 55.0h.01M94.5 33.4h.01M51.6 274.7h.01M386.4 275.9h.01M46.1 52.3h.01M115.2 178.4h.01M180.1 117.1h.01M218.6 375.2h.01M379.9 332.2h.01M9.2 333.9h.01M368.8 382.4h.01M142.0 197.3h.01M330.7 76.0h.01M6.5 348.6h.01M237.9 68.0h.01M282.9 146.9h.01M58.1 281.6h.01M255.5 80.0h.01M86.5 339.4h.01M78.6 115.6h.01M251.8 204.6h.01M177.1 387.4h.01M205.7 294.2h.01M289.1 281.9h.01M9.3 7.3h.01M43.8 62.8h.01M366.5 114.9h.01M96.8 358.4h.01M128.6 249.6h.01M368.8 19.5h.01M392.2 358.2h.01M243.0 272.5h.01M380.5 64.0h.01M282.8 310.9h.01M83.8 13.4h.01M87.2 163.9h.01M99.8 0.3h.01M37.1 381.3h.01M144.5 260.0h.01M52.9 209.4h.01M311.8 92.0h.01M151.0 259.1h.01M150.8 55.8h.01M77.8 128.3h.01M318.4 144.2h.01M241.9 82.1h.01M327.2 321.9h.01M332.3 380.8h.01M231.2 83.2h.01M2.9 311.0h.01M338.6 277.6h.01M385.5 371.3h.01M329.9 58.6h.01M33.0 89.1h.01M149.0 331.4h.01M194.9 319.3h.01M247.3 293.2h.01M15.3 163.8h.01M35.2 307.6h.01M279.6 317.8h.01M289.9 54.8h.01M76.0 57.0h.01M373.4 193.0h.01M274.8 238.6h.01M228.7 6.9h.01M294.3 355.8h.01M81.0 222.5h.01M287.0 57.1h.01M403.7 218.2h.01M364.8 84.5h.01M54.1 349.0h.01M78.0 137.5h.01M274.8 245.5h.01M153.2 285.0h.01M188.4 317.9h.01M235.3 181.7h.01M165.7 157.4h.01M318.3 346.2h.01M11.8 227.0h.01M206.2 301.1h.01M304.4 175.7h.01M270.8 320.2h.01M19.1 353.1h.01M155.5 105.7h.01M51.5 57.2h.01M244.4 8.5h.01M160.7 321.7h.01M339.5 81.0h.01M369.8 94.9h.01M181.4 301.1h.01M52.9 281.4h.01M120.1 41.2h.01M237.8 140.0h.01M222.7 203.6h.01M299.2 257.1h.01M46.0 307.5h.01M164.6 28.3h.01M319.1 208.6h.01M255.0 222.9h.01M359.9 121.4h.01M67.6 32.8h.01M187.2 283.3h.01M300.3 147.1h.01M382.0 170.9h.01M114.3 5.4h.01M167.0 147.3h.01M77.7 139.6h.01M48.7 169.7h.01M230.7 320.7h.01M196.9 301.0h.01M282.1 100.4h.01M53.5 282.4h.01M134.0 339.8h.01M341.4 148.2h.01M346.5 348.3h.01M236.6 354.7h.01M117.9 305.3h.01M190.5 386.7h.01M240.0 46.0h.01M263.4 352.2h.01M383.2 252.7h.01M355.3 181.0h.01M143.0 121.1h.01M40.9 104.3h.01M84.5 294.2h.01M155.9 126.6h.01M124.9 401.4h.01M377.7 344.8h.01M229.0 40.9h.01M194.4 33.7h.01M208.6 235.4h.01M36.5 271.7h.01M158.0 11.2h.01M61.4 305.1h.01M213.3 90.3h.01M352.0 20.5h.01M136.0 310.3h.01M174.7 174.7h.01M127.8 259.2h.01M87.2 79.9h.01M327.4 288.0h.01M195.0 209.6h.01M347.6 296.6h.01M5.5 298.2h.01M363.4 12.1h.01M257.4 387.3h.01M390.0 276.4h.01M56.8 383.1h.01M84.8 312.7h.01M156.1 60.5h.01M387.4 303.0h.01M168.3 40.7h.01M281.5 210.9h.01M215.9 377.3h.01M295.2 397.2h.01M101.1 231.1h.01M200.7 23.8h.01M339.9 52.4h.01M277.0 135.6h.01M254.6 294.0h.01M351.9 205.7h.01M237.8 75.7h.01M134.0 208.4h.01M152.2 170.8h.01M306.1 16.7h.01M211.0 305.8h.01M203.9 161.4h.01M365.9 353.9h.01M182.2 28.9h.01M273.2 348.6h.01M359.2 49.0h.01M132.6 325.7h.01M115.1 120.2h.01M24.9 74.7h.01M251.4 83.1h.01M388.8 119.5h.01M138.5 95.9h.01M188.1 281.4h.01M237.3 124.1h.01M306.5 395.0h.01M119.2 173.4h.01M232.5 306.5h.01M215.5 327.2h.01M302.2 269.3h.01M399.6 273.0h.01M207.4 265.5h.01M5.5 226.3h.01M216.5 46.4h.01M164.7 148.1h.01M123.7 176.7h.01M31.3 230.0h.01M267.3 182.9h.01M123.1 238.8h.01M345.7 229.6h.01M207.1 232.5h.01M347.6 295.0h.01M142.1 16.3h.01M338.9 338.5h.01M380.2 368.7h.01M137.8 87.4h.01M196.5 10.1h.01M257.7 398.1h.01M345.4 34.4h.01M373.5 321.0h.01M68.7 242.4h.01M384.1 128.2h.01M281.2 178.9h.01M196.9 71.0h.01M236.0 16.7h.01M108.1 96.7h.01M269.9 243.3h.01M262.7 239.7h.01M46.8 355.7h.01M334.8 288.6h.01M56.0 87.7h.01M163.3 64.6h.01M231.0 138.2h.01M292.3 106.0h.01M86.8 355.3h.01M293.5 37.1h.01M39.6 302.0h.01M100.4 240.5h.01M266.5 310.9h.01M255.0 384.6h.01M349.3 106.6h.01M158.6 82.3h.01M404.5 113.8h.01M328.4 276.0h.01M247.7 256.5h.01M41.4 24.1h.01M88.9 230.2h.01M377.8 299.0h.01M102.6 130.9h.01M296.8 382.8h.01M319.5 270.9h.01M256.1 4.9h.01M2.7 63.7h.01M18.7 37.3h.01M9.9 298.9h.01M345.9 379.8h.01M283.8 104.8h.01M24.9 356.8h.01M112.9 365.5h.01M359.4 84.2h.01M353.9 251.3h.01M206.1 162.7h.01M9.0 373.2h.01M86.9 22.8h.01M85.7 63.6h.01M359.6 72.8h.01M84.6 89.8h.01M356.1 2.9h.01M253.3 338.8h.01M389.3 304.9h.01M311.1 106.5h.01M366.4 111.2h.01M269.8 338.8h.01M389.2 317.4h.01M234.5 293.2h.01M218.2 363.5h.01M18.4 326.6h.01M120.2 265.7h.01M106.2 193.0h.01M387.4 383.1h.01M203.8 135.5h.01M65.3 138.1h.01M400.6 207.7h.01M297.4 236.6h.01M309.4 10.3h.01M112.6 1.0h.01M165.8 318.3h.01M190.1 182.1h.01M96.9 18.8h.01M289.7 273.8h.01M363.7 349.6h.01M124.1 128.0h.01M282.9 22.3h.01M23.4 115.7h.01M88.3 5.6h.01M139.6 238.3h.01M236.1 84.5h.01M72.8 332.8h.01M306.6 153.1h.01M212.7 193.2h.01M360.9 83.8h.01M266.3 109.7h.01M120.0 251.2h.01M157.4 364.2h.01M2.5 389.1h.01M152.9 231.8h.01M357.5 75.5h.01M257.7 365.3h.01M196.7 372.7h.01M218.7 380.1h.01M184.4 260.7h.01M303.9 77.4h.01M197.0 145.5h.01M90.8 207.6h.01M233.2 25.4h.01M211.7 350.9h.01M378.9 117.2h.01M338.1 281.5h.01M183.5 145.8h.01M369.4 20.0h.01M185.2 96.9h.01M318.6 185.0h.01M331.1 248.9h.01M355.1 242.7h.01M98.4 131.3h.01M104.0 198.0h.01M178.0 152.0h.01M91.5 235.4h.01M12.8 391.6h.01M85.1 28.0h.01M51.8 352.8h.01M370.3 202.5h.01M316.2 13.4h.01M31.1 183.3h.01M186.9 69.4h.01M44.7 153.6h.01M182.4 350.9h.01M41.3 109.0h.01M27.5 243.1h.01M362.2 25.9h.01M343.0 108.9h.01M192.0 200.5h.01M65.3 345.5h.01M389.1 41.3h.01M238.8 102.1h.01M399.1 3.7h.01M223.3 157.9h.01M12.7 326.9h.01M291.3 112.4h.01M122.9 334.1h.01M302.8 313.6h.01M66.0 231.6h.01M83.4 63.0h.01M118.9 108.5h.01M307.3 64.5h.01M15.0 160.7h.01M254.0 332.3h.01M148.4 82.0h.01M400.1 323.8h.01M375.7 330.3h.01M2.2 112.6h.01M230.9 289.5h.01M73.0 235.1h.01M5.6 384.9h.01M161.9 218.0h.01M271.5 41.4h.01M201.8 226.4h.01M105.1 332.6h.01M51.8 393.9h.01M299.4 119.4h.01M49.5 290.1h.01M186.2 380.8h.01M85.9 208.7h.01M167.9 307.3h.01M340.8 242.0h.01M28.1 48.0h.01M283.9 315.6h.01M236.7 378.4h.01M94.7 240.2h.01M246.3 243.5h.01M340.8 4.8h.01M317.0 255.4h.01M309.1 31.3h.01M98.0 125.7h.01M325.7 188.5h.01M276.7 10.5h.01M202.7 81.6h.01M1.3 88.3h.01M271.2 393.1h.01M373.2 101.4h.01M83.8 139.3h.01M85.5 55.0h.01M81.4 147.4h.01M24.1 223.0h.01M199.8 331.6h.01M187.4 317.2h.01M261.5 184.9h.01M191.6 337.8h.01M298.8 281.6h.01M207.9 36.0h.01M37.4 312.9h.01M388.2 130.6h.01M197.5 43.4h.01M234.3 253.4h.01M213.9 57.2h.01M36.0 105.1h.01M303.8 8.6h.01M181.6 291.9h.01M403.1 349.6h.01M87.8 107.4h.01M95.6 289.3h.01M70.4 356.5h.01M301.1 18.6h.01M215.0 7.4h.01M208.5 199.4h.01M235.4 318.6h.01M294.2 120.7h.01M139.5 342.6h.01M373.3 175.5h.01M351.4 28.7h.01M385.4 314.1h.01M302.5 255.8h.01M15.5 149.5h.01M314.3 143.1h.01M275.1 240.6h.01M346.8 270.8h.01M300.7 297.1h.01M307.7 7.2h.01M172.5 367.8h.01M135.6 238.8h.01M368.0 252.3h.01M270.7 48.7h.01M276.2 346.9h.01M159.1 162.1h.01M150.9 148.3h.01M350.8 161.9h.01M371.2 3.1h.01M209.4 227.0h.01M133.2 355.3h.01M331.1 342.1h.01M301.7 156.1h.01M40.5 64.6h.01M205.9 271.0h.01M237.1 57.6h.01M224.7 234.4h.01M259.6 348.4h.01M225.0 107.8h.01M191.4 398.7h.01M129.4 83.4h.01M185.0 159.6h.01M5.9 400.7h.01M228.5 22.4h.01M111.1 193.3h.01"/>
<path id="q2" d="M157.8 116.3h.01M376.3 278.5h.01M42.0 297.9h.01M35.8 71.6h.01M302.0 215.8h.01M377.0 123.3h.01M277.4 364.8h.01M81.5 52.5h.01M24.3 111.6h.01M132.5 82.0h.01M74.2 179.8h.01M340.7 350.9h.01M31.6 264.1h.01M393.4 37.3h.01M361.4 109.8h.01M358.8 5.3h.01M135.8 77.7h.01M135.1 367.5h.01M157.4 231.7h.01M165.2 387.5h.01M161.0 18.3h.01M206.6 238.5h.01M240.1 285.6h.01M319.8 385.2h.01M258.1 385.5h.01M209.7 250.7h.01M76.8 103.0h.01M336.1 340.2h.01M189.7 255.6h.01M136.8 33.2h.01M261.0 152.3h.01M107.3 49.1h.01M317.7 130.1h.01M285.3 340.3h.01M35.3 55.4h.01M53.1 68.5h.01M25.5 10.1h.01M340.5 390.9h.01M166.4 309.8h.01M141.9 217.2h.01M74.2 199.8h.01M45.0 47.4h.01M169.8 146.0h.01M148.0 304.3h.01M78.4 289.8h.01M90.6 360.9h.01M1.0 259.7h.01M14.5 330.2h.01M195.0 85.5h.01M290.4 303.9h.01M359.3 321.1h.01M45.4 294.6h.01M56.3 283.4h.01M391.1 68.9h.01M99.3 134.0h.01M334.4 171.7h.01M5.4 9.3h.01M332.2 2.8h.01M304.7 11.9h.01M277.1 237.5h.01M6.4 211.9h.01M128.5 28.7h.01M309.9 63.4h.01M246.0 162.9h.01M103.5 188.3h.01M29.5 399.3h.01M237.1 8.2h.01M4.7 77.4h.01M243.9 337.9h.01M296.3 276.6h.01M335.8 72.3h.01M36.9 392.4h.01M225.9 86.4h.01M274.3 153.5h.01M337.8 233.0h.01M244.0 398.2h.01M351.2 356.4h.01M220.7 170.6h.01M220.8 140.2h.01M136.6 281.5h.01M397.5 274.0h.01M127.1 278.6h.01M156.9 170.8h.01M12.5 116.0h.01M63.9 104.0h.01M234.2 206.9h.01M73.5 219.7h.01M224.7 321.1h.01M63.1 143.4h.01M50.6 128.7h.01M77.6 343.1h.01M112.5 25.8h.01M144.4 88.1h.01M362.3 370.7h.01M128.5 22.1h.01M56.1 71.9h.01M60.3 326.6h.01M342.2 253.3h.01M76.3 399.0h.01M336.5 370.6h.01M390.0 113.7h.01M57.7 59.8h.01M331.3 369.6h.01M199.6 366.7h.01M131.4 170.7h.01M255.7 225.9h.01M194.8 221.6h.01M101.0 137.5h.01M310.5 347.1h.01M243.0 21.9h.01M334.2 191.6h.01M129.1 31.5h.01M25.9 3.0h.01M232.6 165.4h.01M92.3 308.5h.01M108.5 244.2h.01M317.6 76.1h.01M35.4 338.0h.01M378.8 14.5h.01M387.2 1.6h.01M384.1 310.6h.01M146.2 245.0h.01M51.6 0.4h.01M308.4 192.6h.01M327.9 342.2h.01M144.9 45.2h.01M95.7 83.8h.01M181.8 287.7h.01M21.1 269.6h.01M1.7 50.9h.01M140.5 8.9h.01M341.6 323.5h.01M384.0 8.3h.01M119.9 0.7h.01M186.6 118.0h.01M325.6 159.8h.01M31.8 204.6h.01M316.3 399.6h.01M352.0 249.0h.01M392.3 253.8h.01M215.7 68.6h.01M0.9 379.5h.01M402.8 192.6h.01M18.7 226.7h.01M316.6 174.4h.01M100.3 238.7h.01M241.3 192.7h.01M71.1 315.4h.01M260.6 259.5h.01M246.1 45.0h.01M187.4 100.3h.01M160.9 140.9h.01M332.7 284.4h.01M396.0 126.6h.01M333.5 189.0h.01M39.3 145.7h.01M142.3 109.9h.01M376.4 161.2h.01M62.9 104.6h.01M129.5 312.5h.01M259.5 49.1h.01M389.8 284.3h.01M97.2 26.3h.01M21.8 236.1h.01M44.0 80.8h.01M393.1 325.3h.01M326.4 366.3h.01M397.1 249.4h.01M10.1 396.5h.01M261.1 216.9h.01M307.2 36.4h.01M265.9 346.4h.01M227.6 99.6h.01M167.9 20.6h.01M317.2 94.8h.01M359.9 277.3h.01M223.5 279.5h.01M125.0 122.3h.01M254.2 191.8h.01M255.5 58.6h.01M70.0 73.0h.01M294.3 359.7h.01M387.4 293.3h.01M201.9 363.9h.01M206.3 237.3h.01M184.5 168.6h.01M180.3 16.4h.01M329.5 233.8h.01M297.0 47.0h.01M306.9 101.0h.01M65.9 182.2h.01M117.4 62.2h.01M78.8 40.2h.01M177.4 221.7h.01M2.3 19.2h.01M219.7 96.7h.01M236.3 188.4h.01M87.8 124.5h.01M347.4 380.1h.01M30.4 146.1h.01M357.7 14.5h.01M64.0 223.5h.01M136.0 241.9h.01M59.1 220.0h.01M217.0 347.6h.01M44.7 384.5h.01M230.1 270.0h.01M346.5 182.9h.01M106.5 194.1h.01M380.1 333.2h.01M298.7 121.9h.01M334.9 3.9h.01M404.9 200.0h.01M124.6 307.2h.01M209.5 302.2h.01M89.9 120.2h.01M402.2 88.4h.01M207.8 322.0h.01M71.7 106.0h.01M14.1 355.3h.01M159.1 302.8h.01M244.4 396.5h.01M227.0 156.3h.01M147.4 208.4h.01M384.7 249.1h.01M199.2 12.4h.01M311.0 72.4h.01M68.9 372.0h.01M334.1 224.0h.01M48.9 47.6h.01M327.3 206.0h.01M365.9 57.8h.01M321.0 208.8h.01M146.6 355.3h.01M56.2 43.3h.01M175.8 211.4h.01M47.5 314.3h.01M137.7 299.0h.01M25.7 348.3h.01M131.4 274.6h.01M114.9 213.3h.01M140.2 111.5h.01M288.0 36.5h.01M162.1 332.0h.01M356.8 306.4h.01M386.9 231.8h.01M172.1 11.5h.01M332.0 292.6h.01M347.6 142.9h.01M162.6 107.2h.01M183.2 261.3h.01M206.4 143.2h.01M290.0 85.3h.01"/>
<filter id="sb" x="-5%" y="-5%" width="110%" height="110%"><feTurbulence type="fractalNoise" baseFrequency="0.3" numOctaves="1" seed="9" result="t"/><feDisplacementMap in="SourceGraphic" in2="t" scale="3.2" xChannelSelector="R" yChannelSelector="G"/><feGaussianBlur stdDeviation="0.8"/></filter>
<filter id="sbb" x="-5%" y="-5%" width="110%" height="110%"><feTurbulence type="fractalNoise" baseFrequency="0.3" numOctaves="1" seed="4" result="t"/><feDisplacementMap in="SourceGraphic" in2="t" scale="3" xChannelSelector="R" yChannelSelector="G"/><feGaussianBlur stdDeviation="0.55"/></filter>
<filter id="sbc" x="-5%" y="-5%" width="110%" height="110%"><feTurbulence type="fractalNoise" baseFrequency="0.25" numOctaves="1" seed="14" result="t"/><feDisplacementMap in="SourceGraphic" in2="t" scale="3" xChannelSelector="R" yChannelSelector="G"/><feGaussianBlur stdDeviation="0.7"/></filter>
<filter id="sb3" x="-5%" y="-5%" width="110%" height="110%"><feGaussianBlur stdDeviation="0.9"/></filter>
<filter id="sb2" x="-5%" y="-5%" width="110%" height="110%"><feGaussianBlur stdDeviation="1.1"/></filter>
</defs>
<rect width="1512" height="990" fill="#fff"/>
<g id="panel-a">
<rect x="6" y="8" width="405" height="402.5" fill="#843200"/>
<rect x="6" y="8" width="405" height="402.5" filter="url(#fa)"/>
<g clip-path="url(#ca)">
<g filter="url(#sb)"><g transform="translate(6 8) scale(1.0 1.0)" fill="none" stroke-linecap="round">
<use href="#p0" stroke="#a8661f" stroke-width="2.8" stroke-opacity="0.85"/>
<use href="#p1" stroke="#cc9444" stroke-width="3.1"/>
<use href="#p2" stroke="#ecc880" stroke-width="3.5"/>
</g></g>
<g filter="url(#sb2)">
<ellipse cx="112.6" cy="88.2" rx="4.7" ry="2.9" fill="#d0a050" transform="rotate(20 112.6 88.2)"/>
<ellipse cx="172.9" cy="93.9" rx="3.2" ry="3.2" fill="#d0a050"/>
<ellipse cx="128.4" cy="50.6" rx="2.3" ry="2.3" fill="#a06a22"/>
<ellipse cx="119.3" cy="68.5" rx="2.1" ry="2.1" fill="#a06a22"/>
<ellipse cx="176.9" cy="127.8" rx="2.4" ry="2.4" fill="#b88438"/>
<ellipse cx="188.1" cy="133.5" rx="2.8" ry="2.8" fill="#d0a050"/>
<ellipse cx="173.9" cy="172.0" rx="3.5" ry="3.9" fill="#d0a050"/>
<ellipse cx="189.1" cy="179.1" rx="3.1" ry="3.1" fill="#d0a050"/>
<ellipse cx="75.0" cy="122.7" rx="2.5" ry="2.2" fill="#b88438"/>
<ellipse cx="9.0" cy="150.0" rx="3.7" ry="2.1" fill="#d0a050" transform="rotate(-20 9.0 150.0)"/>
<ellipse cx="43.6" cy="182.6" rx="2.7" ry="3.0" fill="#a06a22"/>
<ellipse cx="30.4" cy="155.2" rx="2.1" ry="2.4" fill="#a06a22"/>
<ellipse cx="161.3" cy="104.4" rx="2.2" ry="2.2" fill="#a06a22"/>
<ellipse cx="70.0" cy="157.0" rx="2.1" ry="2.4" fill="#a06a22"/>
<ellipse cx="136.0" cy="164.0" rx="2.2" ry="2.1" fill="#a06a22"/>
<ellipse cx="19.0" cy="200.0" rx="2.1" ry="2.1" fill="#a06a22"/>
<ellipse cx="189.7" cy="72.0" rx="2.1" ry="2.1" fill="#a06a22"/>
<ellipse cx="233.4" cy="53.7" rx="3.4" ry="3.1" fill="#d0a050" transform="rotate(35 233.4 53.7)"/>
<ellipse cx="224.2" cy="42.5" rx="2.1" ry="2.1" fill="#a06a22"/>
<ellipse cx="347.0" cy="46.6" rx="2.7" ry="3.4" fill="#d0a050"/>
<ellipse cx="318.6" cy="58.3" rx="2.5" ry="2.5" fill="#b88438"/>
<ellipse cx="321.1" cy="78.0" rx="2.8" ry="4.3" fill="#d0a050" transform="rotate(-20 321.1 78.0)"/>
<ellipse cx="312.9" cy="122.7" rx="3.9" ry="2.9" fill="#d0a050"/>
<ellipse cx="334.3" cy="122.1" rx="3.4" ry="3.4" fill="#d0a050"/>
<ellipse cx="271.5" cy="114.6" rx="2.5" ry="2.5" fill="#b88438"/>
<ellipse cx="280.0" cy="97.3" rx="1.9" ry="1.9" fill="#a06a22"/>
<ellipse cx="286.1" cy="152.5" rx="3.3" ry="3.1" fill="#d0a050"/>
<ellipse cx="286.6" cy="163.3" rx="3.4" ry="3.7" fill="#d0a050"/>
<ellipse cx="324.7" cy="149.0" rx="2.5" ry="2.5" fill="#b88438"/>
<ellipse cx="324.3" cy="156.2" rx="1.9" ry="1.9" fill="#a06a22"/>
<ellipse cx="230.3" cy="174.5" rx="2.5" ry="3.6" fill="#b88438" transform="rotate(15 230.3 174.5)"/>
<ellipse cx="261.4" cy="136.3" rx="2.0" ry="2.2" fill="#a06a22"/>
<ellipse cx="409.0" cy="127.8" rx="3.2" ry="2.6" fill="#d0a050"/>
<ellipse cx="409.0" cy="117.6" rx="2.1" ry="2.1" fill="#a06a22"/>
<ellipse cx="315.6" cy="9.0" rx="2.8" ry="2.0" fill="#b88438"/>
<ellipse cx="298.3" cy="45.6" rx="1.9" ry="2.2" fill="#a06a22"/>
<ellipse cx="367.3" cy="63.8" rx="1.9" ry="1.9" fill="#a06a22"/>
<ellipse cx="389.7" cy="68.9" rx="1.9" ry="1.9" fill="#a06a22"/>
<ellipse cx="307.5" cy="182.6" rx="2.1" ry="2.1" fill="#a06a22"/>
<ellipse cx="213.0" cy="192.7" rx="2.1" ry="2.1" fill="#a06a22"/>
<ellipse cx="124.1" cy="214.1" rx="2.5" ry="2.5" fill="#b88438"/>
<ellipse cx="112.6" cy="237.0" rx="3.1" ry="3.5" fill="#d0a050"/>
<ellipse cx="78.1" cy="222.2" rx="2.5" ry="2.2" fill="#b88438"/>
<ellipse cx="192.8" cy="241.9" rx="2.6" ry="2.6" fill="#d0a050"/>
<ellipse cx="96.3" cy="262.2" rx="2.3" ry="2.3" fill="#b88438"/>
<ellipse cx="140.4" cy="288.2" rx="3.0" ry="2.6" fill="#b88438"/>
<ellipse cx="176.5" cy="289.2" rx="2.6" ry="2.6" fill="#d0a050"/>
<ellipse cx="18.6" cy="304.0" rx="2.6" ry="2.3" fill="#b88438"/>
<ellipse cx="47.0" cy="302.8" rx="2.3" ry="2.3" fill="#b88438"/>
<ellipse cx="39.5" cy="328.8" rx="2.2" ry="2.5" fill="#a06a22"/>
<ellipse cx="137.5" cy="341.4" rx="2.3" ry="2.3" fill="#b88438"/>
<ellipse cx="133.5" cy="369.4" rx="2.9" ry="2.9" fill="#d0a050"/>
<ellipse cx="122.3" cy="376.9" rx="2.9" ry="2.9" fill="#d0a050"/>
<ellipse cx="139.6" cy="383.6" rx="3.1" ry="2.9" fill="#d0a050"/>
<ellipse cx="122.1" cy="400.8" rx="3.4" ry="3.9" fill="#b88438"/>
<ellipse cx="153.2" cy="399.8" rx="3.3" ry="1.8" fill="#b88438" transform="rotate(-50 153.2 399.8)"/>
<ellipse cx="58.8" cy="400.4" rx="2.2" ry="2.2" fill="#b88438"/>
<ellipse cx="21.2" cy="370.4" rx="1.9" ry="2.2" fill="#a06a22"/>
<ellipse cx="7.0" cy="382.0" rx="2.4" ry="2.2" fill="#b88438"/>
<ellipse cx="105.5" cy="317.6" rx="2.2" ry="2.2" fill="#a06a22"/>
<ellipse cx="156.2" cy="320.2" rx="2.4" ry="2.4" fill="#a06a22"/>
<ellipse cx="195.8" cy="361.3" rx="2.1" ry="2.2" fill="#a06a22"/>
<ellipse cx="41.5" cy="279.0" rx="2.1" ry="2.1" fill="#a06a22"/>
<ellipse cx="32.4" cy="273.6" rx="2.7" ry="1.6" fill="#a06a22" transform="rotate(-40 32.4 273.6)"/>
<ellipse cx="246.6" cy="230.3" rx="3.7" ry="2.7" fill="#d0a050" transform="rotate(-10 246.6 230.3)"/>
<ellipse cx="336.9" cy="256.7" rx="2.7" ry="2.7" fill="#d0a050"/>
<ellipse cx="311.9" cy="257.3" rx="2.2" ry="2.2" fill="#b88438"/>
<ellipse cx="244.5" cy="256.7" rx="2.2" ry="2.6" fill="#b88438"/>
<ellipse cx="269.9" cy="298.3" rx="2.5" ry="2.5" fill="#b88438"/>
<ellipse cx="236.4" cy="304.0" rx="2.8" ry="2.3" fill="#b88438"/>
<ellipse cx="242.5" cy="327.8" rx="2.6" ry="2.3" fill="#b88438"/>
<ellipse cx="299.3" cy="335.3" rx="7.3" ry="2.4" fill="#d0a050" transform="rotate(17 299.3 335.3)"/>
<ellipse cx="356.2" cy="344.0" rx="4.2" ry="4.2" fill="#b88438"/>
<ellipse cx="249.6" cy="350.7" rx="4.5" ry="2.7" fill="#d0a050" transform="rotate(32 249.6 350.7)"/>
<ellipse cx="359.2" cy="323.1" rx="2.6" ry="2.8" fill="#b88438"/>
<ellipse cx="231.7" cy="393.7" rx="2.7" ry="2.7" fill="#d0a050"/>
<ellipse cx="392.7" cy="268.9" rx="2.2" ry="2.2" fill="#b88438"/>
<ellipse cx="355.2" cy="276.4" rx="2.1" ry="2.1" fill="#a06a22"/>
<ellipse cx="270.9" cy="389.7" rx="2.2" ry="2.2" fill="#b88438"/>
<ellipse cx="397.8" cy="323.1" rx="2.2" ry="2.2" fill="#b88438"/>
<ellipse cx="328.8" cy="270.0" rx="3.2" ry="1.7" fill="#a06a22" transform="rotate(-10 328.8 270.0)"/>
<ellipse cx="369.0" cy="378.5" rx="2.7" ry="1.9" fill="#a06a22" transform="rotate(25 369.0 378.5)"/>
<ellipse cx="296.3" cy="397.8" rx="3.0" ry="2.7" fill="#a06a22"/>
</g><g filter="url(#sb)">
<ellipse cx="112.6" cy="88.2" rx="4.2" ry="2.4" fill="#fff8dc" transform="rotate(20 112.6 88.2)"/>
<ellipse cx="172.9" cy="93.9" rx="2.7" ry="2.7" fill="#fff8dc"/>
<ellipse cx="128.4" cy="50.6" rx="1.7" ry="1.7" fill="#cca054"/>
<ellipse cx="119.3" cy="68.5" rx="1.5" ry="1.5" fill="#cca054"/>
<ellipse cx="176.9" cy="127.8" rx="1.8" ry="1.8" fill="#ecd49c"/>
<ellipse cx="188.1" cy="133.5" rx="2.3" ry="2.3" fill="#fff8dc"/>
<ellipse cx="173.9" cy="172.0" rx="3.0" ry="3.4" fill="#fff8dc"/>
<ellipse cx="189.1" cy="179.1" rx="2.6" ry="2.6" fill="#fff8dc"/>
<ellipse cx="75.0" cy="122.7" rx="1.9" ry="1.6" fill="#ecd49c"/>
<ellipse cx="9.0" cy="150.0" rx="3.2" ry="1.6" fill="#fff8dc" transform="rotate(-20 9.0 150.0)"/>
<ellipse cx="43.6" cy="182.6" rx="2.0" ry="2.3" fill="#cca054"/>
<ellipse cx="30.4" cy="155.2" rx="1.5" ry="1.8" fill="#cca054"/>
<ellipse cx="161.3" cy="104.4" rx="1.6" ry="1.6" fill="#cca054"/>
<ellipse cx="70.0" cy="157.0" rx="1.5" ry="1.8" fill="#cca054"/>
<ellipse cx="136.0" cy="164.0" rx="1.6" ry="1.5" fill="#cca054"/>
<ellipse cx="19.0" cy="200.0" rx="1.5" ry="1.5" fill="#cca054"/>
<ellipse cx="189.7" cy="72.0" rx="1.5" ry="1.5" fill="#cca054"/>
<ellipse cx="233.4" cy="53.7" rx="2.9" ry="2.6" fill="#fff8dc" transform="rotate(35 233.4 53.7)"/>
<ellipse cx="224.2" cy="42.5" rx="1.5" ry="1.5" fill="#cca054"/>
<ellipse cx="347.0" cy="46.6" rx="2.2" ry="2.9" fill="#fff8dc"/>
<ellipse cx="318.6" cy="58.3" rx="1.9" ry="1.9" fill="#ecd49c"/>
<ellipse cx="321.1" cy="78.0" rx="2.3" ry="3.8" fill="#fff8dc" transform="rotate(-20 321.1 78.0)"/>
<ellipse cx="312.9" cy="122.7" rx="3.4" ry="2.4" fill="#fff8dc"/>
<ellipse cx="334.3" cy="122.1" rx="2.9" ry="2.9" fill="#fff8dc"/>
<ellipse cx="271.5" cy="114.6" rx="1.9" ry="1.9" fill="#ecd49c"/>
<ellipse cx="280.0" cy="97.3" rx="1.4" ry="1.4" fill="#cca054"/>
<ellipse cx="286.1" cy="152.5" rx="2.8" ry="2.6" fill="#fff8dc"/>
<ellipse cx="286.6" cy="163.3" rx="2.9" ry="3.2" fill="#fff8dc"/>
<ellipse cx="324.7" cy="149.0" rx="1.9" ry="1.9" fill="#ecd49c"/>
<ellipse cx="324.3" cy="156.2" rx="1.4" ry="1.4" fill="#cca054"/>
<ellipse cx="230.3" cy="174.5" rx="1.9" ry="2.9" fill="#ecd49c" transform="rotate(15 230.3 174.5)"/>
<ellipse cx="261.4" cy="136.3" rx="1.4" ry="1.6" fill="#cca054"/>
<ellipse cx="409.0" cy="127.8" rx="2.7" ry="2.1" fill="#fff8dc"/>
<ellipse cx="409.0" cy="117.6" rx="1.5" ry="1.5" fill="#cca054"/>
<ellipse cx="315.6" cy="9.0" rx="2.2" ry="1.4" fill="#ecd49c"/>
<ellipse cx="298.3" cy="45.6" rx="1.4" ry="1.6" fill="#cca054"/>
<ellipse cx="367.3" cy="63.8" rx="1.4" ry="1.4" fill="#cca054"/>
<ellipse cx="389.7" cy="68.9" rx="1.4" ry="1.4" fill="#cca054"/>
<ellipse cx="307.5" cy="182.6" rx="1.5" ry="1.5" fill="#cca054"/>
<ellipse cx="213.0" cy="192.7" rx="1.5" ry="1.5" fill="#cca054"/>
<ellipse cx="124.1" cy="214.1" rx="1.9" ry="1.9" fill="#ecd49c"/>
<ellipse cx="112.6" cy="237.0" rx="2.6" ry="3.0" fill="#fff8dc"/>
<ellipse cx="78.1" cy="222.2" rx="1.9" ry="1.6" fill="#ecd49c"/>
<ellipse cx="192.8" cy="241.9" rx="2.1" ry="2.1" fill="#fff8dc"/>
<ellipse cx="96.3" cy="262.2" rx="1.7" ry="1.7" fill="#ecd49c"/>
<ellipse cx="140.4" cy="288.2" rx="2.3" ry="2.0" fill="#ecd49c"/>
<ellipse cx="176.5" cy="289.2" rx="2.1" ry="2.1" fill="#fff8dc"/>
<ellipse cx="18.6" cy="304.0" rx="2.0" ry="1.7" fill="#ecd49c"/>
<ellipse cx="47.0" cy="302.8" rx="1.7" ry="1.7" fill="#ecd49c"/>
<ellipse cx="39.5" cy="328.8" rx="1.6" ry="1.9" fill="#cca054"/>
<ellipse cx="137.5" cy="341.4" rx="1.7" ry="1.7" fill="#ecd49c"/>
<ellipse cx="133.5" cy="369.4" rx="2.4" ry="2.4" fill="#fff8dc"/>
<ellipse cx="122.3" cy="376.9" rx="2.4" ry="2.4" fill="#fff8dc"/>
<ellipse cx="139.6" cy="383.6" rx="2.6" ry="2.4" fill="#fff8dc"/>
<ellipse cx="122.1" cy="400.8" rx="2.7" ry="3.2" fill="#ecd49c"/>
<ellipse cx="153.2" cy="399.8" rx="2.6" ry="1.3" fill="#ecd49c" transform="rotate(-50 153.2 399.8)"/>
<ellipse cx="58.8" cy="400.4" rx="1.6" ry="1.6" fill="#ecd49c"/>
<ellipse cx="21.2" cy="370.4" rx="1.4" ry="1.6" fill="#cca054"/>
<ellipse cx="7.0" cy="382.0" rx="1.8" ry="1.6" fill="#ecd49c"/>
<ellipse cx="105.5" cy="317.6" rx="1.6" ry="1.6" fill="#cca054"/>
<ellipse cx="156.2" cy="320.2" rx="1.8" ry="1.8" fill="#cca054"/>
<ellipse cx="195.8" cy="361.3" rx="1.5" ry="1.6" fill="#cca054"/>
<ellipse cx="41.5" cy="279.0" rx="1.5" ry="1.5" fill="#cca054"/>
<ellipse cx="32.4" cy="273.6" rx="2.0" ry="1.1" fill="#cca054" transform="rotate(-40 32.4 273.6)"/>
<ellipse cx="246.6" cy="230.3" rx="3.2" ry="2.2" fill="#fff8dc" transform="rotate(-10 246.6 230.3)"/>
<ellipse cx="336.9" cy="256.7" rx="2.2" ry="2.2" fill="#fff8dc"/>
<ellipse cx="311.9" cy="257.3" rx="1.6" ry="1.6" fill="#ecd49c"/>
<ellipse cx="244.5" cy="256.7" rx="1.6" ry="2.0" fill="#ecd49c"/>
<ellipse cx="269.9" cy="298.3" rx="1.9" ry="1.9" fill="#ecd49c"/>
<ellipse cx="236.4" cy="304.0" rx="2.2" ry="1.7" fill="#ecd49c"/>
<ellipse cx="242.5" cy="327.8" rx="2.0" ry="1.7" fill="#ecd49c"/>
<ellipse cx="299.3" cy="335.3" rx="6.8" ry="1.9" fill="#fff8dc" transform="rotate(17 299.3 335.3)"/>
<ellipse cx="356.2" cy="344.0" rx="3.5" ry="3.5" fill="#ecd49c"/>
<ellipse cx="249.6" cy="350.7" rx="4.0" ry="2.2" fill="#fff8dc" transform="rotate(32 249.6 350.7)"/>
<ellipse cx="359.2" cy="323.1" rx="2.0" ry="2.2" fill="#ecd49c"/>
<ellipse cx="231.7" cy="393.7" rx="2.2" ry="2.2" fill="#fff8dc"/>
<ellipse cx="392.7" cy="268.9" rx="1.6" ry="1.6" fill="#ecd49c"/>
<ellipse cx="355.2" cy="276.4" rx="1.5" ry="1.5" fill="#cca054"/>
<ellipse cx="270.9" cy="389.7" rx="1.6" ry="1.6" fill="#ecd49c"/>
<ellipse cx="397.8" cy="323.1" rx="1.6" ry="1.6" fill="#ecd49c"/>
<ellipse cx="328.8" cy="270.0" rx="2.4" ry="1.2" fill="#cca054" transform="rotate(-10 328.8 270.0)"/>
<ellipse cx="369.0" cy="378.5" rx="2.0" ry="1.4" fill="#cca054" transform="rotate(25 369.0 378.5)"/>
<ellipse cx="296.3" cy="397.8" rx="2.3" ry="2.0" fill="#cca054"/>
</g>
<g filter="url(#sb2)">
<ellipse cx="66.9" cy="355.2" rx="3.6" ry="3.6" fill="#3c0800"/>
</g>
</g>
<text x="22.6" y="53.2" class="pl" font-size="39" textLength="47.4" lengthAdjust="spacingAndGlyphs" fill="#fff">(a)</text>
<text x="11" y="440.2" class="lb" font-size="26.8" textLength="152" lengthAdjust="spacingAndGlyphs">Topography</text>
<rect x="329.7" y="414.2" width="81.6" height="7.5" fill="#000"/>
<text x="343.3" y="450.4" class="lb" font-size="26.5" textLength="67.5" lengthAdjust="spacingAndGlyphs">1 µm</text>
<rect x="440.6" y="107.2" width="28.4" height="205.2" fill="#000"/>
<rect x="443.1" y="109.7" width="23.4" height="200.2" fill="url(#ga)"/>
<text x="417.3" y="103.4" class="cb" textLength="71.5" lengthAdjust="spacingAndGlyphs">7.0 nm</text>
<text x="413.8" y="332.8" class="cb" textLength="80" lengthAdjust="spacingAndGlyphs">-7.0 nm</text>
</g>
<g id="panel-b">
<rect x="503" y="7.7" width="406.3" height="402.9" fill="#d678c0"/>
<rect x="503" y="7.7" width="406.3" height="402.9" filter="url(#fb)"/>
<g clip-path="url(#cb)">
<g filter="url(#sbb)"><g transform="translate(503 7.7) scale(1.00321 1.00099)" fill="none" stroke-linecap="round">
<use href="#q0" stroke="#8a40a8" stroke-width="2.2" stroke-opacity="0.7"/>
<use href="#q1" stroke="#602488" stroke-width="2.3" stroke-opacity="0.85"/>
<use href="#q2" stroke="#461668" stroke-width="2.5" stroke-opacity="0.95"/>
</g></g>
<g filter="url(#sb2)">
<ellipse cx="818.6" cy="79.4" rx="3.6" ry="3.2" fill="#fffafa"/>
<ellipse cx="670.0" cy="171.3" rx="3.4" ry="3.8" fill="#fffafa"/>
<ellipse cx="668.9" cy="94.7" rx="3.0" ry="2.4" fill="#fbd4d0"/>
<ellipse cx="784.4" cy="156.8" rx="3.4" ry="3.4" fill="#fbd4d0"/>
<ellipse cx="784.4" cy="164.4" rx="3.2" ry="3.2" fill="#fffafa"/>
<ellipse cx="618.6" cy="214.9" rx="3.0" ry="3.0" fill="#fffafa"/>
<ellipse cx="856.7" cy="325.0" rx="3.0" ry="3.0" fill="#fffafa"/>
<ellipse cx="745.8" cy="352.6" rx="3.0" ry="3.0" fill="#fffafa"/>
<ellipse cx="632.8" cy="382.6" rx="3.0" ry="3.0" fill="#fffafa"/>
<ellipse cx="754.3" cy="401.4" rx="2.6" ry="2.6" fill="#fbd4d0"/>
<ellipse cx="511.0" cy="304.0" rx="2.6" ry="2.6" fill="#fbd4d0"/>
</g>
</g>
<text x="515.3" y="48.1" class="pl" font-size="39" textLength="47.2" lengthAdjust="spacingAndGlyphs" fill="#fff">(b)</text>
<text x="505.3" y="443.7" class="lb" font-size="27" textLength="126" lengthAdjust="spacingAndGlyphs">Adhesion</text>
<rect x="828" y="413.9" width="81.3" height="6.6" fill="#000"/>
<text x="844.3" y="451.1" class="lb" font-size="26.5" textLength="67.5" lengthAdjust="spacingAndGlyphs">1 µm</text>
<rect x="942.9" y="107.7" width="27.6" height="205.3" fill="#000"/>
<rect x="945.4" y="110.2" width="22.6" height="200.3" fill="url(#gb)"/>
<text x="915" y="104.3" class="cb" textLength="82" lengthAdjust="spacingAndGlyphs">12.0 nN</text>
<text x="920" y="333.2" class="cb" textLength="70.5" lengthAdjust="spacingAndGlyphs">5.0 nN</text>
</g>
<g id="panel-c">
<rect x="1014" y="9.6" width="403.5" height="401.8" fill="#f8d62c"/>
<rect x="1014" y="9.6" width="403.5" height="401.8" filter="url(#fc)"/>
<g clip-path="url(#cc)">
<g filter="url(#sbc)"><g transform="translate(1014 9.6) scale(0.9963 0.99826)" fill="none" stroke-linecap="round">
<use href="#p0" stroke="#ea983e" stroke-width="3.2" stroke-opacity="0.85"/>
<use href="#p0" stroke="#cc6a58" stroke-width="1.9" stroke-opacity="0.9"/>
<use href="#p1" stroke="#e87c50" stroke-width="3.8" stroke-opacity="0.9"/>
<use href="#p1" stroke="#b03488" stroke-width="2.6"/>
<use href="#p2" stroke="#dc5c70" stroke-width="4.4" stroke-opacity="0.9"/>
<use href="#p2" stroke="#6c20b0" stroke-width="3.2"/>
</g></g>
<g filter="url(#sb2)">
<ellipse cx="1120.2" cy="89.7" rx="4.7" ry="3.2" fill="#c03888" transform="rotate(20 1120.2 89.7)"/>
<ellipse cx="1180.3" cy="95.4" rx="3.4" ry="3.4" fill="#c03888"/>
<ellipse cx="1135.9" cy="52.1" rx="2.6" ry="2.6" fill="#e88050"/>
<ellipse cx="1126.9" cy="70.0" rx="2.4" ry="2.4" fill="#e88050"/>
<ellipse cx="1184.3" cy="129.2" rx="2.7" ry="2.7" fill="#dc6468"/>
<ellipse cx="1195.4" cy="134.9" rx="3.1" ry="3.1" fill="#c03888"/>
<ellipse cx="1181.3" cy="173.3" rx="3.7" ry="4.0" fill="#c03888"/>
<ellipse cx="1196.4" cy="180.4" rx="3.4" ry="3.4" fill="#c03888"/>
<ellipse cx="1082.7" cy="124.1" rx="2.8" ry="2.5" fill="#dc6468"/>
<ellipse cx="1017.0" cy="151.4" rx="3.9" ry="2.4" fill="#c03888" transform="rotate(-20 1017.0 151.4)"/>
<ellipse cx="1051.5" cy="183.9" rx="3.0" ry="3.2" fill="#e88050"/>
<ellipse cx="1038.3" cy="156.5" rx="2.4" ry="2.7" fill="#e88050"/>
<ellipse cx="1168.7" cy="105.8" rx="2.5" ry="2.5" fill="#e88050"/>
<ellipse cx="1077.8" cy="158.3" rx="2.4" ry="2.7" fill="#e88050"/>
<ellipse cx="1143.5" cy="165.3" rx="2.5" ry="2.4" fill="#e88050"/>
<ellipse cx="1027.0" cy="201.3" rx="2.4" ry="2.4" fill="#e88050"/>
<ellipse cx="1197.0" cy="73.5" rx="2.4" ry="2.4" fill="#e88050"/>
<ellipse cx="1240.6" cy="55.2" rx="3.6" ry="3.3" fill="#c03888" transform="rotate(35 1240.6 55.2)"/>
<ellipse cx="1231.4" cy="44.0" rx="2.4" ry="2.4" fill="#e88050"/>
<ellipse cx="1353.7" cy="48.1" rx="3.0" ry="3.6" fill="#c03888"/>
<ellipse cx="1325.4" cy="59.8" rx="2.8" ry="2.8" fill="#dc6468"/>
<ellipse cx="1327.9" cy="79.5" rx="3.1" ry="4.5" fill="#c03888" transform="rotate(-20 1327.9 79.5)"/>
<ellipse cx="1319.8" cy="124.1" rx="4.0" ry="3.2" fill="#c03888"/>
<ellipse cx="1341.1" cy="123.5" rx="3.6" ry="3.6" fill="#c03888"/>
<ellipse cx="1278.5" cy="116.0" rx="2.8" ry="2.8" fill="#dc6468"/>
<ellipse cx="1287.0" cy="98.7" rx="2.2" ry="2.2" fill="#e88050"/>
<ellipse cx="1293.1" cy="153.8" rx="3.5" ry="3.4" fill="#c03888"/>
<ellipse cx="1293.6" cy="164.6" rx="3.6" ry="3.9" fill="#c03888"/>
<ellipse cx="1331.5" cy="150.4" rx="2.8" ry="2.8" fill="#dc6468"/>
<ellipse cx="1331.1" cy="157.5" rx="2.2" ry="2.2" fill="#e88050"/>
<ellipse cx="1237.5" cy="175.8" rx="2.8" ry="3.8" fill="#dc6468" transform="rotate(15 1237.5 175.8)"/>
<ellipse cx="1268.5" cy="137.7" rx="2.3" ry="2.5" fill="#e88050"/>
<ellipse cx="1415.5" cy="129.2" rx="3.4" ry="2.9" fill="#c03888"/>
<ellipse cx="1415.5" cy="119.0" rx="2.4" ry="2.4" fill="#e88050"/>
<ellipse cx="1322.5" cy="10.6" rx="3.1" ry="2.3" fill="#dc6468"/>
<ellipse cx="1305.2" cy="47.1" rx="2.2" ry="2.5" fill="#e88050"/>
<ellipse cx="1374.0" cy="65.3" rx="2.2" ry="2.2" fill="#e88050"/>
<ellipse cx="1396.3" cy="70.4" rx="2.2" ry="2.2" fill="#e88050"/>
<ellipse cx="1314.4" cy="183.9" rx="2.4" ry="2.4" fill="#e88050"/>
<ellipse cx="1220.2" cy="194.0" rx="2.4" ry="2.4" fill="#e88050"/>
<ellipse cx="1131.7" cy="215.3" rx="2.8" ry="2.8" fill="#dc6468"/>
<ellipse cx="1120.2" cy="238.2" rx="3.3" ry="3.7" fill="#c03888"/>
<ellipse cx="1085.8" cy="223.4" rx="2.8" ry="2.5" fill="#dc6468"/>
<ellipse cx="1200.1" cy="243.1" rx="2.9" ry="2.9" fill="#c03888"/>
<ellipse cx="1104.0" cy="263.4" rx="2.6" ry="2.6" fill="#dc6468"/>
<ellipse cx="1147.9" cy="289.3" rx="3.2" ry="2.9" fill="#dc6468"/>
<ellipse cx="1183.9" cy="290.3" rx="2.9" ry="2.9" fill="#c03888"/>
<ellipse cx="1026.6" cy="305.1" rx="2.9" ry="2.6" fill="#dc6468"/>
<ellipse cx="1054.8" cy="303.9" rx="2.6" ry="2.6" fill="#dc6468"/>
<ellipse cx="1047.4" cy="329.8" rx="2.5" ry="2.8" fill="#e88050"/>
<ellipse cx="1145.0" cy="342.4" rx="2.6" ry="2.6" fill="#dc6468"/>
<ellipse cx="1141.0" cy="370.4" rx="3.2" ry="3.2" fill="#c03888"/>
<ellipse cx="1129.9" cy="377.9" rx="3.2" ry="3.2" fill="#c03888"/>
<ellipse cx="1147.1" cy="384.5" rx="3.3" ry="3.2" fill="#c03888"/>
<ellipse cx="1129.7" cy="401.7" rx="3.6" ry="4.1" fill="#dc6468"/>
<ellipse cx="1160.7" cy="400.7" rx="3.5" ry="2.2" fill="#dc6468" transform="rotate(-50 1160.7 400.7)"/>
<ellipse cx="1066.6" cy="401.3" rx="2.5" ry="2.5" fill="#dc6468"/>
<ellipse cx="1029.1" cy="371.4" rx="2.2" ry="2.5" fill="#e88050"/>
<ellipse cx="1015.0" cy="382.9" rx="2.7" ry="2.5" fill="#dc6468"/>
<ellipse cx="1113.1" cy="318.7" rx="2.5" ry="2.5" fill="#e88050"/>
<ellipse cx="1163.6" cy="321.3" rx="2.7" ry="2.7" fill="#e88050"/>
<ellipse cx="1203.1" cy="362.3" rx="2.4" ry="2.5" fill="#e88050"/>
<ellipse cx="1049.4" cy="280.1" rx="2.4" ry="2.4" fill="#e88050"/>
<ellipse cx="1040.3" cy="274.7" rx="3.0" ry="2.0" fill="#e88050" transform="rotate(-40 1040.3 274.7)"/>
<ellipse cx="1253.7" cy="231.5" rx="3.9" ry="3.0" fill="#c03888" transform="rotate(-10 1253.7 231.5)"/>
<ellipse cx="1343.7" cy="257.9" rx="3.0" ry="3.0" fill="#c03888"/>
<ellipse cx="1318.8" cy="258.5" rx="2.5" ry="2.5" fill="#dc6468"/>
<ellipse cx="1251.6" cy="257.9" rx="2.5" ry="2.9" fill="#dc6468"/>
<ellipse cx="1276.9" cy="299.4" rx="2.8" ry="2.8" fill="#dc6468"/>
<ellipse cx="1243.5" cy="305.1" rx="3.1" ry="2.6" fill="#dc6468"/>
<ellipse cx="1249.6" cy="328.8" rx="2.9" ry="2.6" fill="#dc6468"/>
<ellipse cx="1306.2" cy="336.3" rx="7.1" ry="2.7" fill="#c03888" transform="rotate(17 1306.2 336.3)"/>
<ellipse cx="1362.9" cy="345.0" rx="4.4" ry="4.4" fill="#dc6468"/>
<ellipse cx="1256.7" cy="351.7" rx="4.6" ry="3.0" fill="#c03888" transform="rotate(32 1256.7 351.7)"/>
<ellipse cx="1365.9" cy="324.2" rx="2.9" ry="3.1" fill="#dc6468"/>
<ellipse cx="1238.9" cy="394.6" rx="3.0" ry="3.0" fill="#c03888"/>
<ellipse cx="1399.3" cy="270.0" rx="2.5" ry="2.5" fill="#dc6468"/>
<ellipse cx="1361.9" cy="277.5" rx="2.4" ry="2.4" fill="#e88050"/>
<ellipse cx="1277.9" cy="390.6" rx="2.5" ry="2.5" fill="#dc6468"/>
<ellipse cx="1404.3" cy="324.2" rx="2.5" ry="2.5" fill="#dc6468"/>
<ellipse cx="1335.6" cy="271.1" rx="3.4" ry="2.1" fill="#e88050" transform="rotate(-10 1335.6 271.1)"/>
<ellipse cx="1375.7" cy="379.5" rx="3.0" ry="2.2" fill="#e88050" transform="rotate(25 1375.7 379.5)"/>
<ellipse cx="1303.2" cy="398.7" rx="3.2" ry="3.0" fill="#e88050"/>
</g><g filter="url(#sb)">
<ellipse cx="1120.2" cy="89.7" rx="3.7" ry="2.2" fill="#5410c4" transform="rotate(20 1120.2 89.7)"/>
<ellipse cx="1180.3" cy="95.4" rx="2.4" ry="2.4" fill="#5410c4"/>
<ellipse cx="1135.9" cy="52.1" rx="1.6" ry="1.6" fill="#8c2498"/>
<ellipse cx="1126.9" cy="70.0" rx="1.4" ry="1.4" fill="#8c2498"/>
<ellipse cx="1184.3" cy="129.2" rx="1.7" ry="1.7" fill="#6c18b4"/>
<ellipse cx="1195.4" cy="134.9" rx="2.1" ry="2.1" fill="#5410c4"/>
<ellipse cx="1181.3" cy="173.3" rx="2.7" ry="3.0" fill="#5410c4"/>
<ellipse cx="1196.4" cy="180.4" rx="2.4" ry="2.4" fill="#5410c4"/>
<ellipse cx="1082.7" cy="124.1" rx="1.8" ry="1.5" fill="#6c18b4"/>
<ellipse cx="1017.0" cy="151.4" rx="2.9" ry="1.4" fill="#5410c4" transform="rotate(-20 1017.0 151.4)"/>
<ellipse cx="1051.5" cy="183.9" rx="1.9" ry="2.2" fill="#8c2498"/>
<ellipse cx="1038.3" cy="156.5" rx="1.4" ry="1.7" fill="#8c2498"/>
<ellipse cx="1168.7" cy="105.8" rx="1.6" ry="1.6" fill="#8c2498"/>
<ellipse cx="1077.8" cy="158.3" rx="1.4" ry="1.7" fill="#8c2498"/>
<ellipse cx="1143.5" cy="165.3" rx="1.6" ry="1.4" fill="#8c2498"/>
<ellipse cx="1027.0" cy="201.3" rx="1.4" ry="1.4" fill="#8c2498"/>
<ellipse cx="1197.0" cy="73.5" rx="1.4" ry="1.4" fill="#8c2498"/>
<ellipse cx="1240.6" cy="55.2" rx="2.6" ry="2.3" fill="#5410c4" transform="rotate(35 1240.6 55.2)"/>
<ellipse cx="1231.4" cy="44.0" rx="1.4" ry="1.4" fill="#8c2498"/>
<ellipse cx="1353.7" cy="48.1" rx="2.0" ry="2.6" fill="#5410c4"/>
<ellipse cx="1325.4" cy="59.8" rx="1.8" ry="1.8" fill="#6c18b4"/>
<ellipse cx="1327.9" cy="79.5" rx="2.1" ry="3.5" fill="#5410c4" transform="rotate(-20 1327.9 79.5)"/>
<ellipse cx="1319.8" cy="124.1" rx="3.0" ry="2.2" fill="#5410c4"/>
<ellipse cx="1341.1" cy="123.5" rx="2.6" ry="2.6" fill="#5410c4"/>
<ellipse cx="1278.5" cy="116.0" rx="1.8" ry="1.8" fill="#6c18b4"/>
<ellipse cx="1287.0" cy="98.7" rx="1.3" ry="1.3" fill="#8c2498"/>
<ellipse cx="1293.1" cy="153.8" rx="2.5" ry="2.4" fill="#5410c4"/>
<ellipse cx="1293.6" cy="164.6" rx="2.6" ry="2.9" fill="#5410c4"/>
<ellipse cx="1331.5" cy="150.4" rx="1.8" ry="1.8" fill="#6c18b4"/>
<ellipse cx="1331.1" cy="157.5" rx="1.3" ry="1.3" fill="#8c2498"/>
<ellipse cx="1237.5" cy="175.8" rx="1.8" ry="2.7" fill="#6c18b4" transform="rotate(15 1237.5 175.8)"/>
<ellipse cx="1268.5" cy="137.7" rx="1.4" ry="1.6" fill="#8c2498"/>
<ellipse cx="1415.5" cy="129.2" rx="2.4" ry="1.9" fill="#5410c4"/>
<ellipse cx="1415.5" cy="119.0" rx="1.4" ry="1.4" fill="#8c2498"/>
<ellipse cx="1322.5" cy="10.6" rx="2.1" ry="1.4" fill="#6c18b4"/>
<ellipse cx="1305.2" cy="47.1" rx="1.3" ry="1.6" fill="#8c2498"/>
<ellipse cx="1374.0" cy="65.3" rx="1.3" ry="1.3" fill="#8c2498"/>
<ellipse cx="1396.3" cy="70.4" rx="1.3" ry="1.3" fill="#8c2498"/>
<ellipse cx="1314.4" cy="183.9" rx="1.4" ry="1.4" fill="#8c2498"/>
<ellipse cx="1220.2" cy="194.0" rx="1.4" ry="1.4" fill="#8c2498"/>
<ellipse cx="1131.7" cy="215.3" rx="1.8" ry="1.8" fill="#6c18b4"/>
<ellipse cx="1120.2" cy="238.2" rx="2.3" ry="2.7" fill="#5410c4"/>
<ellipse cx="1085.8" cy="223.4" rx="1.8" ry="1.5" fill="#6c18b4"/>
<ellipse cx="1200.1" cy="243.1" rx="1.9" ry="1.9" fill="#5410c4"/>
<ellipse cx="1104.0" cy="263.4" rx="1.6" ry="1.6" fill="#6c18b4"/>
<ellipse cx="1147.9" cy="289.3" rx="2.2" ry="1.9" fill="#6c18b4"/>
<ellipse cx="1183.9" cy="290.3" rx="1.9" ry="1.9" fill="#5410c4"/>
<ellipse cx="1026.6" cy="305.1" rx="1.9" ry="1.6" fill="#6c18b4"/>
<ellipse cx="1054.8" cy="303.9" rx="1.6" ry="1.6" fill="#6c18b4"/>
<ellipse cx="1047.4" cy="329.8" rx="1.6" ry="1.8" fill="#8c2498"/>
<ellipse cx="1145.0" cy="342.4" rx="1.6" ry="1.6" fill="#6c18b4"/>
<ellipse cx="1141.0" cy="370.4" rx="2.2" ry="2.2" fill="#5410c4"/>
<ellipse cx="1129.9" cy="377.9" rx="2.2" ry="2.2" fill="#5410c4"/>
<ellipse cx="1147.1" cy="384.5" rx="2.3" ry="2.2" fill="#5410c4"/>
<ellipse cx="1129.7" cy="401.7" rx="2.6" ry="3.0" fill="#6c18b4"/>
<ellipse cx="1160.7" cy="400.7" rx="2.5" ry="1.2" fill="#6c18b4" transform="rotate(-50 1160.7 400.7)"/>
<ellipse cx="1066.6" cy="401.3" rx="1.5" ry="1.5" fill="#6c18b4"/>
<ellipse cx="1029.1" cy="371.4" rx="1.3" ry="1.6" fill="#8c2498"/>
<ellipse cx="1015.0" cy="382.9" rx="1.7" ry="1.5" fill="#6c18b4"/>
<ellipse cx="1113.1" cy="318.7" rx="1.6" ry="1.6" fill="#8c2498"/>
<ellipse cx="1163.6" cy="321.3" rx="1.7" ry="1.7" fill="#8c2498"/>
<ellipse cx="1203.1" cy="362.3" rx="1.4" ry="1.6" fill="#8c2498"/>
<ellipse cx="1049.4" cy="280.1" rx="1.4" ry="1.4" fill="#8c2498"/>
<ellipse cx="1040.3" cy="274.7" rx="1.9" ry="1.0" fill="#8c2498" transform="rotate(-40 1040.3 274.7)"/>
<ellipse cx="1253.7" cy="231.5" rx="2.9" ry="2.0" fill="#5410c4" transform="rotate(-10 1253.7 231.5)"/>
<ellipse cx="1343.7" cy="257.9" rx="2.0" ry="2.0" fill="#5410c4"/>
<ellipse cx="1318.8" cy="258.5" rx="1.5" ry="1.5" fill="#6c18b4"/>
<ellipse cx="1251.6" cy="257.9" rx="1.5" ry="1.9" fill="#6c18b4"/>
<ellipse cx="1276.9" cy="299.4" rx="1.8" ry="1.8" fill="#6c18b4"/>
<ellipse cx="1243.5" cy="305.1" rx="2.1" ry="1.6" fill="#6c18b4"/>
<ellipse cx="1249.6" cy="328.8" rx="1.9" ry="1.6" fill="#6c18b4"/>
<ellipse cx="1306.2" cy="336.3" rx="6.1" ry="1.7" fill="#5410c4" transform="rotate(17 1306.2 336.3)"/>
<ellipse cx="1362.9" cy="345.0" rx="3.3" ry="3.3" fill="#6c18b4"/>
<ellipse cx="1256.7" cy="351.7" rx="3.6" ry="2.0" fill="#5410c4" transform="rotate(32 1256.7 351.7)"/>
<ellipse cx="1365.9" cy="324.2" rx="1.9" ry="2.1" fill="#6c18b4"/>
<ellipse cx="1238.9" cy="394.6" rx="2.0" ry="2.0" fill="#5410c4"/>
<ellipse cx="1399.3" cy="270.0" rx="1.5" ry="1.5" fill="#6c18b4"/>
<ellipse cx="1361.9" cy="277.5" rx="1.4" ry="1.4" fill="#8c2498"/>
<ellipse cx="1277.9" cy="390.6" rx="1.5" ry="1.5" fill="#6c18b4"/>
<ellipse cx="1404.3" cy="324.2" rx="1.5" ry="1.5" fill="#6c18b4"/>
<ellipse cx="1335.6" cy="271.1" rx="2.3" ry="1.2" fill="#8c2498" transform="rotate(-10 1335.6 271.1)"/>
<ellipse cx="1375.7" cy="379.5" rx="1.9" ry="1.3" fill="#8c2498" transform="rotate(25 1375.7 379.5)"/>
<ellipse cx="1303.2" cy="398.7" rx="2.2" ry="1.9" fill="#8c2498"/>
</g>
<g filter="url(#sb)">
<ellipse cx="1120.2" cy="89.7" rx="2.6" ry="1.5" fill="#1408e8" transform="rotate(20 1120.2 89.7)"/>
<ellipse cx="1180.3" cy="95.4" rx="1.7" ry="1.7" fill="#1408e8"/>
<ellipse cx="1195.4" cy="134.9" rx="1.4" ry="1.4" fill="#1408e8"/>
<ellipse cx="1181.3" cy="173.3" rx="1.9" ry="2.1" fill="#1408e8"/>
<ellipse cx="1196.4" cy="180.4" rx="1.6" ry="1.6" fill="#1408e8"/>
<ellipse cx="1017.0" cy="151.4" rx="2.0" ry="1.0" fill="#1408e8" transform="rotate(-20 1017.0 151.4)"/>
<ellipse cx="1240.6" cy="55.2" rx="1.8" ry="1.6" fill="#1408e8" transform="rotate(35 1240.6 55.2)"/>
<ellipse cx="1353.7" cy="48.1" rx="1.4" ry="1.8" fill="#1408e8"/>
<ellipse cx="1327.9" cy="79.5" rx="1.4" ry="2.4" fill="#1408e8" transform="rotate(-20 1327.9 79.5)"/>
<ellipse cx="1319.8" cy="124.1" rx="2.1" ry="1.5" fill="#1408e8"/>
<ellipse cx="1341.1" cy="123.5" rx="1.8" ry="1.8" fill="#1408e8"/>
<ellipse cx="1293.1" cy="153.8" rx="1.8" ry="1.6" fill="#1408e8"/>
<ellipse cx="1293.6" cy="164.6" rx="1.8" ry="2.0" fill="#1408e8"/>
<ellipse cx="1415.5" cy="129.2" rx="1.7" ry="1.3" fill="#1408e8"/>
<ellipse cx="1120.2" cy="238.2" rx="1.6" ry="1.9" fill="#1408e8"/>
<ellipse cx="1200.1" cy="243.1" rx="1.3" ry="1.3" fill="#1408e8"/>
<ellipse cx="1183.9" cy="290.3" rx="1.3" ry="1.3" fill="#1408e8"/>
<ellipse cx="1141.0" cy="370.4" rx="1.5" ry="1.5" fill="#1408e8"/>
<ellipse cx="1129.9" cy="377.9" rx="1.5" ry="1.5" fill="#1408e8"/>
<ellipse cx="1147.1" cy="384.5" rx="1.6" ry="1.5" fill="#1408e8"/>
<ellipse cx="1253.7" cy="231.5" rx="2.0" ry="1.4" fill="#1408e8" transform="rotate(-10 1253.7 231.5)"/>
<ellipse cx="1343.7" cy="257.9" rx="1.4" ry="1.4" fill="#1408e8"/>
<ellipse cx="1306.2" cy="336.3" rx="4.2" ry="1.2" fill="#1408e8" transform="rotate(17 1306.2 336.3)"/>
<ellipse cx="1256.7" cy="351.7" rx="2.5" ry="1.4" fill="#1408e8" transform="rotate(32 1256.7 351.7)"/>
<ellipse cx="1238.9" cy="394.6" rx="1.4" ry="1.4" fill="#1408e8"/>
</g>
</g>
<text x="1042.4" y="47.5" class="pl" font-size="39" textLength="40.6" lengthAdjust="spacingAndGlyphs" fill="#fff">(c)</text>
<text x="1016.2" y="449.4" class="lb" font-size="27" textLength="170.5" lengthAdjust="spacingAndGlyphs">Deformation</text>
<rect x="1335.2" y="415.5" width="80.2" height="7.2" fill="#000"/>
<text x="1340.4" y="452.8" class="lb" font-size="26.5" textLength="67.5" lengthAdjust="spacingAndGlyphs">1 µm</text>
<rect x="1450.8" y="108.8" width="27.5" height="203.6" fill="#000"/>
<rect x="1453.3" y="111.3" width="22.5" height="198.6" fill="url(#gc)"/>
<text x="1427" y="105" class="cb" textLength="73" lengthAdjust="spacingAndGlyphs">3.2 nm</text>
<text x="1427.8" y="332.6" class="cb" textLength="72.3" lengthAdjust="spacingAndGlyphs">1.0 nm</text>
</g>
<g id="panel-d">
<rect x="179.3" y="520.5" width="403.3" height="403.2" fill="#3060c0"/>
<rect x="179.3" y="520.5" width="403.3" height="403.2" filter="url(#fd)"/>
<g clip-path="url(#cd)">
<g filter="url(#sbc)"><g transform="translate(179.3 520.5) scale(0.9958 1.00174)" fill="none" stroke-linecap="round">
<use href="#p0" stroke="#2a7a68" stroke-width="2.3" stroke-opacity="0.65"/>
<use href="#p1" stroke="#2a8c4c" stroke-width="2.7" stroke-opacity="0.9"/>
<use href="#p2" stroke="#2ca62c" stroke-width="3.2"/>
</g></g>
<g filter="url(#sb2)">
<ellipse cx="285.5" cy="600.8" rx="4.9" ry="3.0" fill="#2a8850" transform="rotate(20 285.5 600.8)"/>
<ellipse cx="345.5" cy="606.5" rx="3.4" ry="3.4" fill="#2a8850"/>
<ellipse cx="349.5" cy="640.5" rx="2.4" ry="2.4" fill="#2a8058"/>
<ellipse cx="360.6" cy="646.2" rx="3.0" ry="3.0" fill="#2a8850"/>
<ellipse cx="346.5" cy="684.8" rx="3.7" ry="4.1" fill="#2a8850"/>
<ellipse cx="361.6" cy="691.9" rx="3.3" ry="3.3" fill="#2a8850"/>
<ellipse cx="248.0" cy="635.4" rx="2.5" ry="2.2" fill="#2a8058"/>
<ellipse cx="182.3" cy="662.7" rx="3.9" ry="2.2" fill="#2a8850" transform="rotate(-20 182.3 662.7)"/>
<ellipse cx="405.7" cy="566.3" rx="3.6" ry="3.2" fill="#2a8850" transform="rotate(35 405.7 566.3)"/>
<ellipse cx="518.9" cy="559.2" rx="2.9" ry="3.6" fill="#2a8850"/>
<ellipse cx="490.6" cy="570.9" rx="2.5" ry="2.5" fill="#2a8058"/>
<ellipse cx="493.1" cy="590.6" rx="3.0" ry="4.6" fill="#2a8850" transform="rotate(-20 493.1 590.6)"/>
<ellipse cx="484.9" cy="635.4" rx="4.1" ry="3.0" fill="#2a8850"/>
<ellipse cx="506.2" cy="634.8" rx="3.6" ry="3.6" fill="#2a8850"/>
<ellipse cx="443.7" cy="627.3" rx="2.5" ry="2.5" fill="#2a8058"/>
<ellipse cx="458.2" cy="665.3" rx="3.5" ry="3.3" fill="#2a8850"/>
<ellipse cx="458.7" cy="676.1" rx="3.6" ry="3.9" fill="#2a8850"/>
<ellipse cx="496.7" cy="661.7" rx="2.5" ry="2.5" fill="#2a8058"/>
<ellipse cx="402.7" cy="687.3" rx="2.5" ry="3.7" fill="#2a8058" transform="rotate(15 402.7 687.3)"/>
<ellipse cx="580.6" cy="640.5" rx="3.4" ry="2.7" fill="#2a8850"/>
<ellipse cx="487.6" cy="521.5" rx="2.8" ry="2.0" fill="#2a8058"/>
<ellipse cx="296.9" cy="727.0" rx="2.5" ry="2.5" fill="#2a8058"/>
<ellipse cx="285.5" cy="749.9" rx="3.2" ry="3.7" fill="#2a8850"/>
<ellipse cx="251.1" cy="735.1" rx="2.5" ry="2.2" fill="#2a8058"/>
<ellipse cx="365.3" cy="754.8" rx="2.7" ry="2.7" fill="#2a8850"/>
<ellipse cx="269.2" cy="775.1" rx="2.3" ry="2.3" fill="#2a8058"/>
<ellipse cx="313.1" cy="801.2" rx="3.0" ry="2.7" fill="#2a8058"/>
<ellipse cx="349.1" cy="802.2" rx="2.7" ry="2.7" fill="#2a8850"/>
<ellipse cx="191.8" cy="817.0" rx="2.7" ry="2.3" fill="#2a8058"/>
<ellipse cx="220.1" cy="815.8" rx="2.3" ry="2.3" fill="#2a8058"/>
<ellipse cx="310.2" cy="854.5" rx="2.3" ry="2.3" fill="#2a8058"/>
<ellipse cx="306.3" cy="882.5" rx="3.0" ry="3.0" fill="#2a8850"/>
<ellipse cx="295.1" cy="890.0" rx="3.0" ry="3.0" fill="#2a8850"/>
<ellipse cx="312.3" cy="896.8" rx="3.2" ry="3.0" fill="#2a8850"/>
<ellipse cx="294.9" cy="914.0" rx="3.5" ry="4.0" fill="#2a8058"/>
<ellipse cx="325.9" cy="913.0" rx="3.4" ry="1.8" fill="#2a8058" transform="rotate(-50 325.9 913.0)"/>
<ellipse cx="231.9" cy="913.6" rx="2.2" ry="2.2" fill="#2a8058"/>
<ellipse cx="180.3" cy="895.2" rx="2.4" ry="2.2" fill="#2a8058"/>
<ellipse cx="418.9" cy="743.2" rx="3.9" ry="2.9" fill="#2a8850" transform="rotate(-10 418.9 743.2)"/>
<ellipse cx="508.8" cy="769.6" rx="2.9" ry="2.9" fill="#2a8850"/>
<ellipse cx="483.9" cy="770.2" rx="2.2" ry="2.2" fill="#2a8058"/>
<ellipse cx="416.8" cy="769.6" rx="2.2" ry="2.7" fill="#2a8058"/>
<ellipse cx="442.1" cy="811.3" rx="2.5" ry="2.5" fill="#2a8058"/>
<ellipse cx="408.7" cy="817.0" rx="2.8" ry="2.3" fill="#2a8058"/>
<ellipse cx="414.8" cy="840.9" rx="2.7" ry="2.3" fill="#2a8058"/>
<ellipse cx="471.4" cy="848.4" rx="7.7" ry="2.5" fill="#2a8850" transform="rotate(17 471.4 848.4)"/>
<ellipse cx="528.0" cy="857.1" rx="4.4" ry="4.4" fill="#2a8058"/>
<ellipse cx="421.9" cy="863.8" rx="4.8" ry="2.9" fill="#2a8850" transform="rotate(32 421.9 863.8)"/>
<ellipse cx="531.0" cy="836.1" rx="2.7" ry="2.8" fill="#2a8058"/>
<ellipse cx="404.1" cy="906.9" rx="2.9" ry="2.9" fill="#2a8850"/>
<ellipse cx="564.4" cy="781.9" rx="2.2" ry="2.2" fill="#2a8058"/>
<ellipse cx="443.1" cy="902.9" rx="2.2" ry="2.2" fill="#2a8058"/>
<ellipse cx="569.5" cy="836.1" rx="2.2" ry="2.2" fill="#2a8058"/>
</g><g filter="url(#sb)">
<ellipse cx="285.5" cy="600.8" rx="4.4" ry="2.5" fill="#30b41c" transform="rotate(20 285.5 600.8)"/>
<ellipse cx="345.5" cy="606.5" rx="2.9" ry="2.9" fill="#30b41c"/>
<ellipse cx="301.2" cy="563.2" rx="2.1" ry="2.1" fill="#2a9040"/>
<ellipse cx="292.1" cy="581.1" rx="1.9" ry="1.9" fill="#2a9040"/>
<ellipse cx="349.5" cy="640.5" rx="2.1" ry="2.1" fill="#2ea42a"/>
<ellipse cx="360.6" cy="646.2" rx="2.5" ry="2.5" fill="#30b41c"/>
<ellipse cx="346.5" cy="684.8" rx="3.2" ry="3.6" fill="#30b41c"/>
<ellipse cx="361.6" cy="691.9" rx="2.8" ry="2.8" fill="#30b41c"/>
<ellipse cx="248.0" cy="635.4" rx="2.2" ry="1.9" fill="#2ea42a"/>
<ellipse cx="182.3" cy="662.7" rx="3.4" ry="1.7" fill="#30b41c" transform="rotate(-20 182.3 662.7)"/>
<ellipse cx="216.7" cy="695.4" rx="2.5" ry="2.9" fill="#2a9040"/>
<ellipse cx="203.6" cy="668.0" rx="1.9" ry="2.2" fill="#2a9040"/>
<ellipse cx="333.9" cy="617.1" rx="2.0" ry="2.0" fill="#2a9040"/>
<ellipse cx="243.0" cy="669.8" rx="1.9" ry="2.2" fill="#2a9040"/>
<ellipse cx="308.8" cy="676.8" rx="2.0" ry="1.9" fill="#2a9040"/>
<ellipse cx="192.2" cy="712.8" rx="1.9" ry="1.9" fill="#2a9040"/>
<ellipse cx="362.2" cy="584.6" rx="1.9" ry="1.9" fill="#2a9040"/>
<ellipse cx="405.7" cy="566.3" rx="3.1" ry="2.7" fill="#30b41c" transform="rotate(35 405.7 566.3)"/>
<ellipse cx="396.6" cy="555.1" rx="1.9" ry="1.9" fill="#2a9040"/>
<ellipse cx="518.9" cy="559.2" rx="2.4" ry="3.1" fill="#30b41c"/>
<ellipse cx="490.6" cy="570.9" rx="2.2" ry="2.2" fill="#2ea42a"/>
<ellipse cx="493.1" cy="590.6" rx="2.5" ry="4.1" fill="#30b41c" transform="rotate(-20 493.1 590.6)"/>
<ellipse cx="484.9" cy="635.4" rx="3.6" ry="2.5" fill="#30b41c"/>
<ellipse cx="506.2" cy="634.8" rx="3.1" ry="3.1" fill="#30b41c"/>
<ellipse cx="443.7" cy="627.3" rx="2.2" ry="2.2" fill="#2ea42a"/>
<ellipse cx="452.1" cy="610.0" rx="1.7" ry="1.7" fill="#2a9040"/>
<ellipse cx="458.2" cy="665.3" rx="3.0" ry="2.8" fill="#30b41c"/>
<ellipse cx="458.7" cy="676.1" rx="3.1" ry="3.4" fill="#30b41c"/>
<ellipse cx="496.7" cy="661.7" rx="2.2" ry="2.2" fill="#2ea42a"/>
<ellipse cx="496.3" cy="669.0" rx="1.7" ry="1.7" fill="#2a9040"/>
<ellipse cx="402.7" cy="687.3" rx="2.2" ry="3.4" fill="#2ea42a" transform="rotate(15 402.7 687.3)"/>
<ellipse cx="433.6" cy="649.0" rx="1.8" ry="2.0" fill="#2a9040"/>
<ellipse cx="580.6" cy="640.5" rx="2.9" ry="2.2" fill="#30b41c"/>
<ellipse cx="580.6" cy="630.3" rx="1.9" ry="1.9" fill="#2a9040"/>
<ellipse cx="487.6" cy="521.5" rx="2.5" ry="1.7" fill="#2ea42a"/>
<ellipse cx="470.4" cy="558.2" rx="1.7" ry="2.0" fill="#2a9040"/>
<ellipse cx="539.1" cy="576.4" rx="1.7" ry="1.7" fill="#2a9040"/>
<ellipse cx="561.4" cy="581.5" rx="1.7" ry="1.7" fill="#2a9040"/>
<ellipse cx="479.5" cy="695.4" rx="1.9" ry="1.9" fill="#2a9040"/>
<ellipse cx="385.4" cy="705.5" rx="1.9" ry="1.9" fill="#2a9040"/>
<ellipse cx="296.9" cy="727.0" rx="2.2" ry="2.2" fill="#2ea42a"/>
<ellipse cx="285.5" cy="749.9" rx="2.7" ry="3.2" fill="#30b41c"/>
<ellipse cx="251.1" cy="735.1" rx="2.2" ry="1.9" fill="#2ea42a"/>
<ellipse cx="365.3" cy="754.8" rx="2.2" ry="2.2" fill="#30b41c"/>
<ellipse cx="269.2" cy="775.1" rx="2.0" ry="2.0" fill="#2ea42a"/>
<ellipse cx="313.1" cy="801.2" rx="2.7" ry="2.4" fill="#2ea42a"/>
<ellipse cx="349.1" cy="802.2" rx="2.2" ry="2.2" fill="#30b41c"/>
<ellipse cx="191.8" cy="817.0" rx="2.4" ry="2.0" fill="#2ea42a"/>
<ellipse cx="220.1" cy="815.8" rx="2.0" ry="2.0" fill="#2ea42a"/>
<ellipse cx="212.7" cy="841.9" rx="2.0" ry="2.4" fill="#2a9040"/>
<ellipse cx="310.2" cy="854.5" rx="2.0" ry="2.0" fill="#2ea42a"/>
<ellipse cx="306.3" cy="882.5" rx="2.5" ry="2.5" fill="#30b41c"/>
<ellipse cx="295.1" cy="890.0" rx="2.5" ry="2.5" fill="#30b41c"/>
<ellipse cx="312.3" cy="896.8" rx="2.7" ry="2.5" fill="#30b41c"/>
<ellipse cx="294.9" cy="914.0" rx="3.2" ry="3.7" fill="#2ea42a"/>
<ellipse cx="325.9" cy="913.0" rx="3.1" ry="1.5" fill="#2ea42a" transform="rotate(-50 325.9 913.0)"/>
<ellipse cx="231.9" cy="913.6" rx="1.9" ry="1.9" fill="#2ea42a"/>
<ellipse cx="194.4" cy="883.5" rx="1.7" ry="2.0" fill="#2a9040"/>
<ellipse cx="180.3" cy="895.2" rx="2.1" ry="1.9" fill="#2ea42a"/>
<ellipse cx="278.4" cy="830.6" rx="2.0" ry="2.0" fill="#2a9040"/>
<ellipse cx="328.9" cy="833.2" rx="2.2" ry="2.2" fill="#2a9040"/>
<ellipse cx="368.3" cy="874.4" rx="1.9" ry="2.0" fill="#2a9040"/>
<ellipse cx="214.7" cy="792.0" rx="1.9" ry="1.9" fill="#2a9040"/>
<ellipse cx="205.6" cy="786.6" rx="2.5" ry="1.4" fill="#2a9040" transform="rotate(-40 205.6 786.6)"/>
<ellipse cx="418.9" cy="743.2" rx="3.4" ry="2.4" fill="#30b41c" transform="rotate(-10 418.9 743.2)"/>
<ellipse cx="508.8" cy="769.6" rx="2.4" ry="2.4" fill="#30b41c"/>
<ellipse cx="483.9" cy="770.2" rx="1.9" ry="1.9" fill="#2ea42a"/>
<ellipse cx="416.8" cy="769.6" rx="1.9" ry="2.4" fill="#2ea42a"/>
<ellipse cx="442.1" cy="811.3" rx="2.2" ry="2.2" fill="#2ea42a"/>
<ellipse cx="408.7" cy="817.0" rx="2.5" ry="2.0" fill="#2ea42a"/>
<ellipse cx="414.8" cy="840.9" rx="2.4" ry="2.0" fill="#2ea42a"/>
<ellipse cx="471.4" cy="848.4" rx="7.2" ry="2.0" fill="#30b41c" transform="rotate(17 471.4 848.4)"/>
<ellipse cx="528.0" cy="857.1" rx="4.1" ry="4.1" fill="#2ea42a"/>
<ellipse cx="421.9" cy="863.8" rx="4.2" ry="2.4" fill="#30b41c" transform="rotate(32 421.9 863.8)"/>
<ellipse cx="531.0" cy="836.1" rx="2.4" ry="2.5" fill="#2ea42a"/>
<ellipse cx="404.1" cy="906.9" rx="2.4" ry="2.4" fill="#30b41c"/>
<ellipse cx="564.4" cy="781.9" rx="1.9" ry="1.9" fill="#2ea42a"/>
<ellipse cx="527.0" cy="789.4" rx="1.9" ry="1.9" fill="#2a9040"/>
<ellipse cx="443.1" cy="902.9" rx="1.9" ry="1.9" fill="#2ea42a"/>
<ellipse cx="569.5" cy="836.1" rx="1.9" ry="1.9" fill="#2ea42a"/>
<ellipse cx="500.7" cy="783.0" rx="3.1" ry="1.5" fill="#2a9040" transform="rotate(-10 500.7 783.0)"/>
<ellipse cx="540.8" cy="891.6" rx="2.5" ry="1.7" fill="#2a9040" transform="rotate(25 540.8 891.6)"/>
<ellipse cx="468.4" cy="911.0" rx="2.9" ry="2.5" fill="#2a9040"/>
</g>
</g>
<text x="199.5" y="562.7" class="pl" font-size="39" textLength="47.4" lengthAdjust="spacingAndGlyphs" fill="#fff">(d)</text>
<text x="180" y="956.8" class="lb" font-size="27" textLength="225" lengthAdjust="spacingAndGlyphs">Young’s Modulus</text>
<rect x="502.8" y="927" width="80.5" height="7.2" fill="#000"/>
<text x="508" y="965.9" class="lb" font-size="26.5" textLength="67" lengthAdjust="spacingAndGlyphs">1 µm</text>
<rect x="625.3" y="620.1" width="27.9" height="205.1" fill="#000"/>
<rect x="627.8" y="622.6" width="22.9" height="200.1" fill="url(#gd)"/>
<text x="589.5" y="616.6" class="cb" textLength="97.5" lengthAdjust="spacingAndGlyphs">12.0 GPa</text>
<text x="594" y="845.3" class="cb" textLength="87" lengthAdjust="spacingAndGlyphs">4.5 GPa</text>
</g>
<g id="panel-e">
<path d="M977,913.5V910.4H978V910.3H979V910.1H980V909.9H981V909.8H982V909.6H983V909.5H984V909.3H985V909.1H986V909.0H987V908.8H988V908.6H989V908.5H990V908.3H991V908.1H992V907.9H993V907.8H994V907.6H995V907.4H996V907.2H997V907.0H998V906.9H999V906.7H1000V906.5H1001V906.4H1002V906.5H1003V906.6H1004V906.7H1005V906.8H1006V906.9H1007V907.0H1008V906.8H1009V906.3H1010V905.9H1011V905.5H1012V905.0H1013V904.6H1014V904.2H1015V903.7H1016V903.8H1017V904.4H1018V905.1H1019V905.7H1020V905.7H1021V905.1H1022V904.4H1023V903.8H1024V903.7H1025V904.2H1026V904.7H1027V905.2H1028V904.7H1029V903.4H1030V902.0H1031V900.7H1032V899.3H1033V898.0H1034V897.7H1035V898.6H1036V899.5H1037V900.4H1038V899.7H1039V897.4H1040V895.1H1041V892.8H1042V891.6H1043V891.3H1044V891.1H1045V890.8H1046V888.9H1047V885.4H1048V881.9H1049V882.2H1050V886.6H1051V888.9H1052V889.3H1053V887.9H1054V884.7H1055V885.0H1056V888.8H1057V891.0H1058V891.5H1059V890.5H1060V888.0H1061V883.2H1062V876.0H1063V870.0H1064V864.9H1065V858.9H1066V851.8H1067V845.0H1068V838.5H1069V829.4H1070V817.8H1071V805.0H1072V800.0H1073V804.0H1074V807.5H1075V810.5H1076V815.5H1077V822.5H1078V833.5H1079V848.5H1080V852.8H1081V862H1082V862H1083V840.5H1084V840.5H1085V794.4H1086V787.2H1087V784.1H1088V719.8H1089V677.4H1090V677.4H1091V677.4H1092V789.7H1093V763.4H1094V763.4H1095V763.4H1096V763.4H1097V767.5H1098V767.5H1099V747.3H1100V747.3H1101V760H1102V760H1103V776.6H1104V776.6H1105V776.6H1106V773.5H1107V840H1108V840H1109V729.9H1110V729.9H1111V742.2H1112V742.2H1113V768.5H1114V768.5H1115V768.5H1116V735H1117V735H1118V668.3H1119V575.4H1120V575.4H1121V635H1122V635H1123V565.3H1124V565.3H1125V850H1126V850H1127V646.1H1128V646.1H1129V766.5H1130V846H1131V846H1132V846H1133V881.5H1134V881.5H1135V819H1136V819H1137V778.6H1138V812H1139V812H1140V702.6H1141V702.6H1142V725.9H1143V839.5H1144V839.5H1145V689.5H1146V689.5H1147V788.7H1148V747.3H1149V747.3H1150V839.5H1151V839.5H1152V839.5H1153V839.5H1154V807.7H1155V807.7H1156V843.6H1157V846H1158V849H1159V852H1160V855H1161V862H1162V868.7H1163V880H1164V861.4H1165V861.4H1166V882H1167V861.4H1168V861.4H1169V868H1170V874H1171V880H1172V888H1173V888H1174V882H1175V882H1176V866.3H1177V866.3H1178V866.3H1179V885H1180V872H1181V870H1182V870H1183V880H1184V888H1185V893H1186V900H1187V900H1188V903H1189V903H1190V905H1191V905H1192V905H1193V905H1194V906.5H1195V906.5H1196V906.5H1197V906.5H1198V906.5H1199V906.5H1200V903H1201V906H1202V902H1203V902H1204V907H1205V907H1206V905.5H1207V905.5H1208V905.5H1209V905.5H1210V907H1211V907H1212V907H1213V908.5H1214V908.5H1215V910H1216V913.5Z" fill="#0000fb" shape-rendering="crispEdges"/>
<polygon points="868.6,913.5 868.6,912.5 870.6,912.5 872.6,912.5 874.6,912.5 876.6,912.5 878.6,912.5 880.6,912.5 882.6,912.5 884.6,912.5 886.6,912.5 888.6,912.5 890.6,912.5 892.6,912.5 894.6,912.5 896.6,912.5 898.6,912.5 900.6,912.5 902.6,912.5 904.6,912.5 906.6,912.5 908.6,912.5 910.6,912.5 912.6,912.5 914.6,912.5 916.6,912.5 918.6,912.5 920.6,912.5 922.6,912.5 924.6,912.5 926.6,912.5 928.6,912.5 930.6,912.5 932.6,912.5 934.6,912.5 936.6,912.5 938.6,912.5 940.6,912.5 942.6,912.5 944.6,912.5 946.6,912.5 948.6,912.5 950.6,912.5 952.6,912.5 954.6,912.5 956.6,912.5 958.6,912.5 960.6,912.5 962.6,912.5 964.6,912.5 966.6,912.5 968.6,912.5 970.6,912.5 972.6,912.5 974.6,912.5 976.6,912.5 978.6,912.5 980.6,912.5 982.6,912.5 984.6,912.5 986.6,912.5 988.6,912.5 990.6,912.5 992.6,912.4 994.6,912.4 996.6,912.4 998.6,912.4 1000.6,912.4 1002.6,912.3 1004.6,912.3 1006.6,912.2 1008.6,912.2 1010.6,912.1 1012.6,912.0 1014.6,911.9 1016.6,911.8 1018.6,911.6 1020.6,911.4 1022.6,911.2 1024.6,911.0 1026.6,910.7 1028.6,910.3 1030.6,909.9 1032.6,909.5 1034.6,909.0 1036.6,908.3 1038.6,907.7 1040.6,906.9 1042.6,906.0 1044.6,905.0 1046.6,903.9 1048.6,902.7 1050.6,901.3 1052.6,899.8 1054.6,898.2 1056.6,896.4 1058.6,894.4 1060.6,892.3 1062.6,890.1 1064.6,887.7 1066.6,885.1 1068.6,882.4 1070.6,879.6 1072.6,876.6 1074.6,873.6 1076.6,870.4 1078.6,867.2 1080.6,863.9 1082.6,860.6 1084.6,857.2 1086.6,853.9 1088.6,850.7 1090.6,847.5 1092.6,844.4 1094.6,841.5 1096.6,838.7 1098.6,836.2 1100.6,833.8 1102.6,831.7 1104.6,829.9 1106.6,828.4 1108.6,827.1 1110.6,826.3 1112.6,825.7 1114.6,825.5 1116.6,825.6 1118.6,826.1 1120.6,826.9 1122.6,828.1 1124.6,829.6 1126.6,831.3 1128.6,833.4 1130.6,835.7 1132.6,838.2 1134.6,840.9 1136.6,843.8 1138.6,846.9 1140.6,850.0 1142.6,853.3 1144.6,856.6 1146.6,859.9 1148.6,863.2 1150.6,866.5 1152.6,869.8 1154.6,872.9 1156.6,876.0 1158.6,879.0 1160.6,881.9 1162.6,884.6 1164.6,887.2 1166.6,889.6 1168.6,891.9 1170.6,894.0 1172.6,896.0 1174.6,897.8 1176.6,899.5 1178.6,901.0 1180.6,902.4 1182.6,903.7 1184.6,904.8 1186.6,905.8 1188.6,906.7 1190.6,907.5 1192.6,908.2 1194.6,908.8 1196.6,909.4 1198.6,909.9 1200.6,910.3 1202.6,910.6 1204.6,910.9 1206.6,911.2 1208.6,911.4 1210.6,911.6 1212.6,911.8 1214.6,911.9 1216.6,912.0 1218.6,912.1 1220.6,912.2 1222.6,912.2 1224.6,912.3 1226.6,912.3 1228.6,912.4 1230.6,912.4 1232.6,912.4 1234.6,912.4 1236.6,912.4 1238.6,912.5 1240.6,912.5 1242.6,912.5 1244.6,912.5 1246.6,912.5 1248.6,912.5 1250.6,912.5 1252.6,912.5 1254.6,912.5 1256.6,912.5 1258.6,912.5 1260.6,912.5 1262.6,912.5 1264.6,912.5 1266.6,912.5 1268.6,912.5 1270.6,912.5 1272.6,912.5 1274.6,912.5 1276.6,912.5 1278.6,912.5 1280.6,912.5 1282.6,912.5 1284.6,912.5 1286.6,912.5 1288.6,912.5 1290.6,912.5 1292.6,912.5 1294.6,912.5 1294.8,912.5 1294.8,913.5" fill="#ff0000" fill-opacity="0.65"/>
<polyline points="868.6,912.5 870.6,912.5 872.6,912.5 874.6,912.5 876.6,912.5 878.6,912.5 880.6,912.5 882.6,912.5 884.6,912.5 886.6,912.5 888.6,912.5 890.6,912.5 892.6,912.5 894.6,912.5 896.6,912.5 898.6,912.5 900.6,912.5 902.6,912.5 904.6,912.5 906.6,912.5 908.6,912.5 910.6,912.5 912.6,912.5 914.6,912.5 916.6,912.5 918.6,912.5 920.6,912.5 922.6,912.5 924.6,912.5 926.6,912.5 928.6,912.5 930.6,912.5 932.6,912.5 934.6,912.5 936.6,912.5 938.6,912.5 940.6,912.5 942.6,912.5 944.6,912.5 946.6,912.5 948.6,912.5 950.6,912.5 952.6,912.5 954.6,912.5 956.6,912.5 958.6,912.5 960.6,912.5 962.6,912.5 964.6,912.5 966.6,912.5 968.6,912.5 970.6,912.5 972.6,912.5 974.6,912.5 976.6,912.5 978.6,912.5 980.6,912.5 982.6,912.5 984.6,912.5 986.6,912.5 988.6,912.5 990.6,912.5 992.6,912.4 994.6,912.4 996.6,912.4 998.6,912.4 1000.6,912.4 1002.6,912.3 1004.6,912.3 1006.6,912.2 1008.6,912.2 1010.6,912.1 1012.6,912.0 1014.6,911.9 1016.6,911.8 1018.6,911.6 1020.6,911.4 1022.6,911.2 1024.6,911.0 1026.6,910.7 1028.6,910.3 1030.6,909.9 1032.6,909.5 1034.6,909.0 1036.6,908.3 1038.6,907.7 1040.6,906.9 1042.6,906.0 1044.6,905.0 1046.6,903.9 1048.6,902.7 1050.6,901.3 1052.6,899.8 1054.6,898.2 1056.6,896.4 1058.6,894.4 1060.6,892.3 1062.6,890.1 1064.6,887.7 1066.6,885.1 1068.6,882.4 1070.6,879.6 1072.6,876.6 1074.6,873.6 1076.6,870.4 1078.6,867.2 1080.6,863.9 1082.6,860.6 1084.6,857.2 1086.6,853.9 1088.6,850.7 1090.6,847.5 1092.6,844.4 1094.6,841.5 1096.6,838.7 1098.6,836.2 1100.6,833.8 1102.6,831.7 1104.6,829.9 1106.6,828.4 1108.6,827.1 1110.6,826.3 1112.6,825.7 1114.6,825.5 1116.6,825.6 1118.6,826.1 1120.6,826.9 1122.6,828.1 1124.6,829.6 1126.6,831.3 1128.6,833.4 1130.6,835.7 1132.6,838.2 1134.6,840.9 1136.6,843.8 1138.6,846.9 1140.6,850.0 1142.6,853.3 1144.6,856.6 1146.6,859.9 1148.6,863.2 1150.6,866.5 1152.6,869.8 1154.6,872.9 1156.6,876.0 1158.6,879.0 1160.6,881.9 1162.6,884.6 1164.6,887.2 1166.6,889.6 1168.6,891.9 1170.6,894.0 1172.6,896.0 1174.6,897.8 1176.6,899.5 1178.6,901.0 1180.6,902.4 1182.6,903.7 1184.6,904.8 1186.6,905.8 1188.6,906.7 1190.6,907.5 1192.6,908.2 1194.6,908.8 1196.6,909.4 1198.6,909.9 1200.6,910.3 1202.6,910.6 1204.6,910.9 1206.6,911.2 1208.6,911.4 1210.6,911.6 1212.6,911.8 1214.6,911.9 1216.6,912.0 1218.6,912.1 1220.6,912.2 1222.6,912.2 1224.6,912.3 1226.6,912.3 1228.6,912.4 1230.6,912.4 1232.6,912.4 1234.6,912.4 1236.6,912.4 1238.6,912.5 1240.6,912.5 1242.6,912.5 1244.6,912.5 1246.6,912.5 1248.6,912.5 1250.6,912.5 1252.6,912.5 1254.6,912.5 1256.6,912.5 1258.6,912.5 1260.6,912.5 1262.6,912.5 1264.6,912.5 1266.6,912.5 1268.6,912.5 1270.6,912.5 1272.6,912.5 1274.6,912.5 1276.6,912.5 1278.6,912.5 1280.6,912.5 1282.6,912.5 1284.6,912.5 1286.6,912.5 1288.6,912.5 1290.6,912.5 1292.6,912.5 1294.6,912.5 1294.8,912.5" fill="none" stroke="#ff0a14" stroke-width="2" stroke-linejoin="round"/>
<g stroke="#2b2b2b" stroke-width="2" fill="none">
<path d="M840.7,919.5V530.0H1314.2V919.5"/>
<path d="M834.7,913.5H1314.2"/>
<path d="M840.7,913.5v6M888.1,913.5v3M935.4,913.5v6M982.8,913.5v3M1030.1,913.5v6M1077.5,913.5v3M1124.8,913.5v6M1172.2,913.5v3M1219.5,913.5v6M1266.9,913.5v3M1314.2,913.5v6M840.7,913.5h-6M840.7,870.9h-3M840.7,828.3h-6M840.7,785.7h-3M840.7,743.1h-6M840.7,700.5h-3M840.7,657.9h-6M840.7,615.3h-3M840.7,572.7h-6"/>
</g>
<rect x="868.6" y="911.1" width="426.2" height="2.4" fill="#f00008"/>
<rect x="868.6" y="913.5" width="426.2" height="1" fill="#7a0000"/>
<text class="tk" x="840.7" y="943.9" text-anchor="middle">2</text>
<text class="tk" x="935.4" y="943.9" text-anchor="middle">4</text>
<text class="tk" x="1030.1" y="943.9" text-anchor="middle">6</text>
<text class="tk" x="1124.8" y="943.9" text-anchor="middle">8</text>
<text class="tk" x="1219.5" y="943.9" text-anchor="middle">10</text>
<text class="tk" x="1314.2" y="943.9" text-anchor="middle">12</text>
<text class="tk" x="828" y="920.1" text-anchor="end">0</text>
<text class="tk" x="828" y="834.9" text-anchor="end">1</text>
<text class="tk" x="828" y="749.7" text-anchor="end">2</text>
<text class="tk" x="828" y="664.5" text-anchor="end">3</text>
<text class="tk" x="828" y="579.3" text-anchor="end">4</text>
<text class="ax" font-size="31" x="922" y="976.5" textLength="312" lengthAdjust="spacing">Young's Modulus [GPa]</text>
<text class="ax" font-size="32" transform="translate(804.4,719.6) rotate(-90)" text-anchor="middle">%</text>
<text class="pl" font-size="39" x="756.3" y="562.7" textLength="47" lengthAdjust="spacingAndGlyphs" fill="#000">(e)</text>
</g>
</svg></body></html>
